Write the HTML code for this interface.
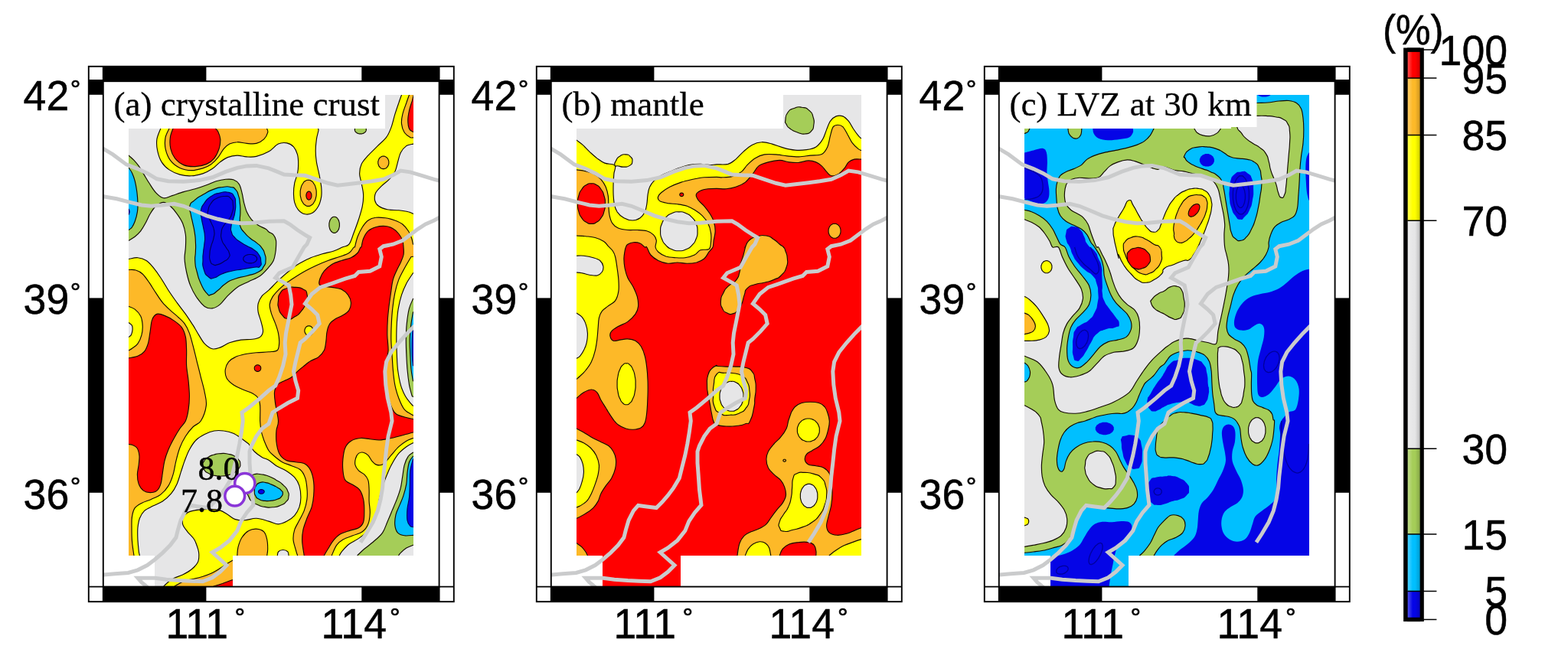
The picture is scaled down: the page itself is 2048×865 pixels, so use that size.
<!DOCTYPE html>
<html lang="en"><head><meta charset="utf-8"><title>Probability maps</title>
<style>
html,body{margin:0;padding:0;background:#fff;}
body{width:2048px;height:865px;overflow:hidden;}
svg{display:block;}
.ax{font-family:"Liberation Sans",sans-serif;font-size:53.6px;fill:#000;stroke:#000;stroke-width:0.5px;}
.dg{font-family:"Liberation Sans",sans-serif;font-size:34px;}
.ser{font-family:"Liberation Serif",serif;font-size:45px;fill:#000;stroke:#000;stroke-width:0.3px;}
.mag{font-family:"Liberation Serif",serif;font-size:44px;fill:#000;stroke:#000;stroke-width:0.4px;}
</style></head><body>
<svg width="2048" height="865" viewBox="0 0 2048 865">
<defs>
<clipPath id="dclip"><path d="M168,168H438V124H540V726H304V767H202V726H168Z"/></clipPath>
<clipPath id="mclip"><rect x="133.8" y="106" width="440.6" height="661"/></clipPath>
<linearGradient id="sheen" x1="0" x2="1" y1="0" y2="0"><stop offset="0" stop-color="#fff" stop-opacity="0.30"/><stop offset="0.4" stop-color="#fff" stop-opacity="0"/><stop offset="0.6" stop-color="#000" stop-opacity="0"/><stop offset="1" stop-color="#000" stop-opacity="0.18"/></linearGradient>
</defs>
<rect width="2048" height="865" fill="#fff"/>
<g transform="translate(0,0)">
<g clip-path="url(#dclip)" stroke="#120a00" stroke-width="1.15" stroke-linejoin="round">
<rect x="160" y="120" width="390" height="650" stroke="none" fill="#ffff00"/>
<path d="M168.2,338.5C170.2,338.2 176.1,336.4 179.9,336.7C183.8,337.1 187.9,338.4 191.2,340.5C194.5,342.6 196.8,345.5 199.9,349.2C203,353 206.6,358 209.9,363C213.2,367.9 216.4,373.8 219.9,379.2C223.4,384.6 227.4,390.2 231.1,395.4C234.9,400.6 238.8,405.4 242.4,410.4C245.9,415.4 249.4,420.8 252.4,425.4C255.3,429.9 257.3,433.9 259.8,437.9C262.3,441.8 264.4,446.1 267.3,449.1C270.2,452.1 274,455 277.3,455.8C280.7,456.7 283.6,455.4 287.3,454.1C291.1,452.8 295.2,449.5 299.8,447.8C304.4,446.2 309.8,444.8 314.8,444.1C319.8,443.3 325.6,444 329.8,443.3C333.9,442.7 337.5,442.1 339.7,440.4C342,438.6 343.3,436.2 343.5,432.9C343.7,429.5 342,424.5 341,420.4C340,416.2 337.9,411.8 337.2,407.9C336.6,403.9 336.4,400.2 337.2,396.7C338.1,393.1 340,389.6 342.2,386.7C344.5,383.8 347,382.9 351,379.2C354.9,375.4 360.6,369.2 366,364.2C371.4,359.2 378.9,352.8 383.5,349.2C388,345.7 389.7,345.1 393.4,343C397.2,340.9 401.4,338.6 405.9,336.7C410.5,334.9 415.9,333.2 420.9,331.7C425.9,330.3 431.5,329.5 435.9,328C440.3,326.5 443.8,324.5 447.1,323C450.5,321.5 453.4,322.4 455.9,319.2C458.4,316.1 460,309.7 462.1,304.3C464.2,298.8 466.5,292.6 468.4,286.8C470.2,280.9 472.3,274.7 473.3,269.3C474.4,263.9 474.8,259.3 474.6,254.3C474.4,249.3 472.9,243.9 472.1,239.3C471.3,234.8 469.6,231 469.6,226.9C469.6,222.7 470.2,218.3 472.1,214.4C474,210.4 477.3,207.1 480.8,203.1C484.4,199.2 489.4,194.6 493.3,190.6C497.3,186.7 501.6,183.4 504.6,179.4C507.5,175.5 508.9,171.9 510.8,166.9C512.7,161.9 514.1,154.9 515.8,149.4C517.5,144 519.3,138.7 520.8,134.5C522.2,130.2 523.9,125.7 524.5,124L527,114.5L150,114.5L150,338.5Z" fill="#e6e6e7"/>
<path d="M550.8,188.1L539.5,188.1C538.1,188.6 533.5,188.8 530.8,190.6C528.1,192.5 525.2,195.8 523.3,199.4C521.4,202.9 520.8,207.7 519.5,211.9C518.3,216 517.7,220.6 515.8,224.4C513.9,228.1 511.2,231.2 508.3,234.3C505.4,237.5 501.2,240.2 498.3,243.1C495.4,246 492.3,248.7 490.8,251.8C489.4,254.9 489,258.9 489.6,261.8C490.2,264.7 491.9,267.3 494.6,269.3C497.3,271.3 501.4,272.9 505.8,273.8C510.2,274.7 516.2,274.3 520.8,274.8C525.4,275.3 530.2,276 533.3,276.8C536.4,277.5 538.5,278.9 539.5,279.3L550.8,279.8Z" fill="#e6e6e7"/>
<path d="M550.8,355.5L539.5,356.7C538.1,359 533.3,365.7 530.8,370.4C528.3,375.2 526.3,380 524.5,385.4C522.8,390.8 521.3,396.7 520.3,402.9C519.2,409.1 518.7,416.2 518.3,422.9C517.9,429.5 517.8,436.2 517.8,442.9C517.8,449.5 518,456.2 518.3,462.8C518.6,469.5 518.7,476.1 519.5,482.8C520.4,489.5 521.6,496.9 523.3,502.8C524.9,508.6 527.2,513.6 529.5,517.8C531.8,521.9 535.4,525.7 537,527.7C538.7,529.8 539.1,529.8 539.5,530.2L550.8,531.5Z" fill="#e6e6e7"/>
<path d="M550.8,389.2L539.5,390.4C538.7,392.5 535.9,397.5 534.5,402.9C533.1,408.3 532,416.2 531.3,422.9C530.6,429.5 530.4,436.2 530.3,442.9C530.2,449.5 530.5,456.2 530.8,462.8C531.1,469.5 531.4,476.1 532,482.8C532.6,489.5 533.5,496.9 534.5,502.8C535.6,508.6 537.6,515.3 538.3,517.8L550.8,521.5Z" fill="#a5cd58"/>
<path d="M550.8,406.6L539.5,407.9C539.1,410.4 537.7,417 537,422.9C536.3,428.7 535.5,436.2 535.3,442.9C535.1,449.5 535.5,456.2 535.8,462.8C536.1,469.5 536.4,477 537,482.8C537.6,488.6 539.1,495.3 539.5,497.8L550.8,499Z" fill="#00bfff"/>
<path d="M550.8,426.6L539.5,427.9C539.3,430.4 538.5,437 538.3,442.9C538.1,448.7 538.1,457 538.3,462.8C538.5,468.7 539.3,475.3 539.5,477.8L550.8,479.1Z" fill="#0505e6" stroke="#00005a"/>
<path d="M314.8,572.5C313.1,571.4 308.5,567.8 304.8,566.2C301,564.6 296.5,563.5 292.3,563C288.1,562.4 284,562.2 279.8,563C275.7,563.7 271.3,565.5 267.3,567.5C263.4,569.5 259.4,571.6 256.1,575C252.8,578.3 249.9,582.9 247.4,587.5C244.9,592 243,597.4 241.1,602.4C239.2,607.4 237.8,612.4 236.1,617.4C234.5,622.4 233.2,627.8 231.1,632.4C229,637 226.8,641.1 223.6,644.9C220.5,648.6 216.4,652.2 212.4,654.9C208.4,657.6 203.9,659 199.9,661.1C196,663.2 191.6,664.6 188.7,667.4C185.8,670.1 183.9,673.6 182.4,677.3C181,681.1 180.4,685.2 179.9,689.8C179.5,694.4 179.7,699.8 179.9,704.8C180.2,709.8 180.8,716.3 181.2,719.8C181.6,723.3 182.2,725 182.4,726L183.7,749.8L197.4,774.7L213.9,769.7L213.9,766C214.7,765.2 216.7,763 218.9,761.2C221.1,759.5 223.8,757.2 227.1,755.5C230.4,753.8 234.8,752.9 238.6,751C242.4,749.1 246.8,746.7 250.1,744C253.4,741.3 256.7,738 258.3,734.8C260,731.6 259.8,727.7 259.8,724.8C259.9,721.9 259.6,720.6 258.6,717.3C257.6,714 255.9,708.6 253.6,704.8C251.3,701.1 247.4,698.1 244.9,694.8C242.4,691.5 239.5,688.2 238.6,684.8C237.8,681.5 238.4,677.5 239.9,674.8C241.3,672.1 244,670.1 247.4,668.6C250.7,667.1 255.3,666.6 259.8,666.1C264.4,665.6 270.2,665.2 274.8,665.4C279.4,665.5 283.6,665.7 287.3,666.9C291.1,668 294,670.4 297.3,672.3C300.6,674.3 303.5,677.3 307.3,678.6C311,679.8 315.2,680 319.8,679.8C324.3,679.6 329.5,677.1 334.8,677.3C340,677.5 346.2,679.8 351,681.1C355.8,682.3 359.5,684.8 363.5,684.8C367.4,684.8 371.2,683 374.7,681.1C378.3,679.2 382,676.7 384.7,673.6C387.4,670.5 389.6,666.3 391,662.4C392.3,658.4 392.9,654.5 392.9,649.9C392.9,645.3 392.3,639.3 391,634.9C389.6,630.5 387.6,627 384.7,623.7C381.8,620.3 377.4,617.4 373.5,614.9C369.5,612.4 364.7,611 361,608.7C357.2,606.4 354.1,603.1 351,601.2C347.9,599.3 345.4,599.3 342.2,597.4C339.1,595.6 335.2,592.9 332.3,590C329.3,587 326,581.6 324.8,580Z" fill="#e6e6e7"/>
<path d="M362.2,727.3C362.4,726.2 362.2,722.5 363.5,721C364.7,719.6 367.6,718.5 369.7,718.5C371.8,718.5 374.7,719.6 376,721C377.2,722.5 377,726.2 377.2,727.3L377.2,734.8L362.2,734.8Z" fill="#e6e6e7"/>
<path d="M550.8,578L539.5,578.7C538.1,579.5 533.9,581.4 530.8,583.7C527.7,586 523.7,589.1 520.8,592.4C517.9,595.8 515.6,599.7 513.3,603.7C511,607.6 509.1,611.4 507.1,616.2C505,621 502.7,626.8 500.8,632.4C498.9,638 497.1,644.5 495.8,649.9C494.6,655.3 494.4,659.9 493.3,664.9C492.3,669.9 491.7,675.1 489.6,679.8C487.5,684.6 484.4,689.6 480.8,693.6C477.3,697.5 472.5,700.6 468.4,703.6C464.2,706.5 459.4,708.3 455.9,711C452.3,713.8 449.2,717.4 447.1,719.8C445,722.2 444,724.6 443.4,725.5L441.4,737.3L550.8,737.3Z" fill="#e6e6e7"/>
<path d="M550.8,590L539.5,591.2C538.5,592 535.1,593.5 533.3,596.2C531.4,598.9 529.5,603.1 528.3,607.4C527,611.8 526.6,617.4 525.8,622.4C524.9,627.4 524.5,632.4 523.3,637.4C522,642.4 520.2,647.4 518.3,652.4C516.4,657.4 514.1,662.4 512,667.4C510,672.3 507.9,677.5 505.8,682.3C503.7,687.1 502.5,691.9 499.6,696.1C496.7,700.2 492.3,703.8 488.3,707.3C484.4,710.8 479.4,714.3 475.8,717.3C472.3,720.3 468.6,724.2 467.1,725.5L463.4,737.3L550.8,737.3Z" fill="#a5cd58"/>
<path d="M550.8,594.9L539.5,596.2C538.7,597.4 535.8,600.1 534.5,603.7C533.3,607.2 532.6,612.6 532,617.4C531.4,622.2 531.6,627.4 530.8,632.4C529.9,637.4 528.5,642.8 527,647.4C525.6,652 523.7,655.7 522,659.9C520.4,664 518.1,668 517,672.3C516,676.7 515.4,682.1 515.8,686.1C516.2,690 517.5,693.8 519.5,696.1C521.6,698.4 524.9,699.3 528.3,699.8C531.6,700.4 537.6,699.4 539.5,699.3L550.8,699.3Z" fill="#00bfff"/>
<path d="M550.8,598.7L539.5,599.9C538.9,602.4 536.5,609.5 535.8,614.9C535.1,620.3 535.5,626.6 535.3,632.4C535.1,638.2 535.1,644.5 534.5,649.9C534,655.3 532.4,659.9 532,664.9C531.6,669.9 531.4,676.1 532,679.8C532.6,683.6 534.5,685.9 535.8,687.3C537,688.8 538.9,688.4 539.5,688.6L550.8,688.6Z" fill="#0505e6" stroke="#00005a"/>
<path d="M550.8,711.8L539.5,712.3C538.1,712.9 533.5,714.4 530.8,716C528.1,717.7 524.9,720.7 523.3,722.3C521.6,723.9 521.2,725 520.8,725.5L519.5,737.3L550.8,737.3Z" fill="#e6e6e7"/>
<path d="M210.4,156.9L209.9,167.7C209.1,170 205.6,177 204.9,181.9C204.2,186.8 204.6,191.9 205.7,196.9C206.7,201.9 208.6,207.7 211.2,211.9C213.7,216 217.2,219.2 221.1,221.9C225.1,224.6 230.1,226.8 234.9,228.1C239.7,229.4 244.9,230.1 249.9,229.8C254.9,229.6 260.3,228.4 264.8,226.9C269.4,225.3 273.6,223.1 277.3,220.6C281.1,218.1 284,214.4 287.3,211.9C290.6,209.4 293.6,207.1 297.3,205.6C301,204.2 305.6,203.3 309.8,203.1C313.9,203 318.1,204.7 322.3,204.9C326.4,205.1 330,205.5 334.8,204.4C339.5,203.3 346.2,200.8 351,198.1C355.8,195.4 359.5,190 363.5,188.1C367.4,186.3 371.4,186.3 374.7,186.9C378,187.5 381.2,189.4 383.5,191.9C385.7,194.4 387.4,198.1 388.5,201.9C389.5,205.6 389.7,210.2 389.7,214.4C389.7,218.5 389.3,222.7 388.5,226.9C387.6,231 385.5,235.2 384.7,239.3C383.9,243.5 383.5,247.7 383.5,251.8C383.5,256 383.7,260.6 384.7,264.3C385.7,268 387.4,271.7 389.7,274.3C392,276.9 395.3,279.2 398.4,279.8C401.6,280.4 405.5,279.8 408.4,278C411.3,276.3 414,272.8 415.9,269.3C417.8,265.8 419,261 419.7,256.8C420.3,252.7 420.1,248.9 419.7,244.3C419.2,239.8 418.2,234.8 417.2,229.3C416.1,223.9 414.3,217.3 413.4,211.9C412.6,206.5 412.2,201.9 412.2,196.9C412.2,191.9 412.8,186.3 413.4,181.9C414,177.5 415.6,173 415.9,170.7C416.3,168.3 415.5,168.2 415.4,167.7L414.9,156.9Z" fill="#ffff00"/>
<path d="M222.4,156.9L221.1,167.7C220.3,169.6 217,175 216.1,179.4C215.3,183.9 215.1,189.4 216.1,194.4C217.2,199.4 219.3,205.2 222.4,209.4C225.5,213.5 230.3,217.2 234.9,219.4C239.5,221.6 244.9,222.5 249.9,222.6C254.9,222.7 260.5,221.2 264.8,219.9C269.2,218.5 272.7,216.7 276.1,214.4C279.4,212 282.1,209 284.8,205.6C287.5,202.3 289.8,197.3 292.3,194.4C294.8,191.5 296.9,189.6 299.8,188.1C302.7,186.7 306,185.8 309.8,185.7C313.5,185.5 318.1,187.1 322.3,187.4C326.4,187.7 331,188.3 334.8,187.4C338.5,186.5 342.2,184.3 344.7,181.9C347.2,179.5 349.1,175.5 349.7,173.2C350.4,170.8 348.7,168.6 348.5,167.7L347.7,156.9Z" fill="#fdb928"/>
<path d="M413.2,252.3C413.2,256.7 413.4,254.8 412.4,258.8C411.4,262.8 412,261.3 410.1,264.3C408.2,267.4 409.2,266.3 406.7,268C404.2,269.7 405.4,269.3 402.7,269.3C400,269.3 401.1,269.7 398.7,268C396.2,266.3 397.2,267.4 395.3,264.3C393.4,261.3 394,262.8 393,258.8C392,254.8 392.2,256.7 392.2,252.3C392.2,248 392,249.8 393,245.8C394,241.8 393.4,243.4 395.3,240.3C397.2,237.2 396.2,238.3 398.7,236.6C401.1,235 400,235.3 402.7,235.3C405.4,235.3 404.2,235 406.7,236.6C409.2,238.3 408.2,237.2 410.1,240.3C412,243.4 411.4,241.8 412.4,245.8C413.4,249.8 413.2,248 413.2,252.3Z" fill="#fdb928"/>
<path d="M507.8,212.4C507.8,214.5 508,213.6 507.3,215.5C506.6,217.5 507,216.7 505.8,218.2C504.5,219.7 505.1,219.2 503.5,220C501.8,220.8 502.6,220.6 500.8,220.6C499,220.6 499.8,220.8 498.1,220C496.5,219.2 497.1,219.7 495.9,218.2C494.6,216.7 495,217.5 494.4,215.5C493.7,213.6 493.8,214.5 493.8,212.4C493.8,210.3 493.7,211.2 494.4,209.2C495,207.3 494.6,208 495.9,206.5C497.1,205.1 496.5,205.6 498.1,204.8C499.8,204 499,204.1 500.8,204.1C502.6,204.1 501.8,204 503.5,204.8C505.1,205.6 504.5,205.1 505.8,206.5C507,208 506.6,207.3 507.3,209.2C508,211.2 507.8,210.3 507.8,212.4Z" fill="#fdb928"/>
<path d="M535.8,114.5L534.5,124C533.9,125.7 532.2,130.2 530.8,134.5C529.3,138.7 526.8,144.9 525.8,149.4C524.7,154 524.1,158 524.5,161.9C524.9,165.9 526.4,170.3 528.3,173.2C530.2,176.1 533.9,178.3 535.8,179.4C537.6,180.5 538.9,179.8 539.5,179.9L550.8,180.4L550.8,114.5Z" fill="#fdb928"/>
<path d="M160,352.5L168.2,352.5C169.7,352.5 174.5,352 177.4,353C180.4,353.9 183.3,355.3 186.2,358C189.1,360.7 192,365 194.9,369.2C197.8,373.4 200.8,378.6 203.7,382.9C206.6,387.3 209.3,391.7 212.4,395.4C215.5,399.2 219.1,402.3 222.4,405.4C225.7,408.5 229.3,411.2 232.4,414.1C235.5,417 238.6,419.3 241.1,422.9C243.6,426.4 245.5,430.4 247.4,435.4C249.2,440.4 250.7,446.6 252.4,452.8C254,459.1 255.7,466.2 257.3,472.8C259,479.5 260.7,486.1 262.3,492.8C264,499.4 266.2,506.5 267.3,512.8C268.5,519 270.2,524 269.3,530.2C268.5,536.4 265.2,545.5 262.3,550C259.5,554.5 255.7,554.2 252.4,557.5C249,560.8 245.3,565.4 242.4,570C239.5,574.6 237,579.5 234.9,585C232.8,590.4 231.3,596.6 229.9,602.4C228.4,608.3 227.8,614.5 226.1,619.9C224.5,625.3 222.6,630.5 219.9,634.9C217.2,639.3 213.7,643.2 209.9,646.1C206.2,649 201.6,650.5 197.4,652.4C193.3,654.2 188.5,655.5 184.9,657.4C181.4,659.2 178.3,660.7 176.2,663.6C174.1,666.5 173.2,670.5 172.5,674.8C171.7,679.2 172,684.4 172,689.8C172,695.2 172,701.3 172.5,707.3C173,713.3 174.5,722.9 175,726L175.4,734.8L155,734.8Z" fill="#fdb928"/>
<path d="M463.4,323C464,320.7 465.4,313.6 467.1,309.2C468.8,304.9 471.1,300.3 473.3,296.8C475.6,293.2 477.9,290.1 480.8,288C483.8,285.9 487.1,284.8 490.8,284.3C494.6,283.7 499.1,284.2 503.3,284.8C507.5,285.4 512,286.7 515.8,288C519.5,289.4 522.9,290.7 525.8,293C528.7,295.3 531.3,298.6 533.3,301.8C535.3,304.9 536.7,308.8 537.8,311.7C538.8,314.7 539.2,318 539.5,319.2L550.8,321.7L550.8,334.2L537,335.5C535.6,338 531,345.5 528.3,350.5C525.6,355.5 522.9,360 520.8,365.4C518.7,370.9 517.1,376.7 515.8,382.9C514.5,389.2 513.5,396.2 512.8,402.9C512,409.6 511.6,416.2 511.3,422.9C511,429.5 510.7,436.2 510.8,442.9C510.9,449.5 511.6,456.2 512,462.8C512.5,469.5 512.7,476.1 513.3,482.8C513.9,489.5 514.5,496.5 515.8,502.8C517,509 518.7,514.8 520.8,520.3C522.9,525.7 525.1,531.5 528.3,535.2C531.4,539 537.8,541.5 539.8,542.7L550.8,544L550.8,572L539.5,572.5C538.1,573.1 533.9,574.3 530.8,576.2C527.7,578.1 524.1,580.6 520.8,583.7C517.5,586.8 514.1,591.2 510.8,594.9C507.5,598.7 503.9,604.1 500.8,606.2C497.7,608.3 494.6,608.1 492.1,607.4C489.6,606.8 487.7,604.5 485.8,602.4C484,600.4 482.7,596.8 480.8,594.9C479,593.1 476.7,591.6 474.6,591.2C472.5,590.8 470,591.2 468.4,592.4C466.7,593.7 465.4,596.2 464.6,598.7C463.9,601.2 463.2,604.7 463.9,607.4C464.5,610.1 466.4,612.8 468.4,614.9C470.4,617 473.8,617.8 475.8,619.9C477.9,622 479.8,624.1 480.8,627.4C481.9,630.7 481.9,635.3 482.1,639.9C482.3,644.5 481.9,649.9 482.1,654.9C482.3,659.9 483.5,664.9 483.3,669.9C483.1,674.8 482.5,680.7 480.8,684.8C479.2,689 476.7,692.3 473.3,694.8C470,697.3 465,698.1 460.9,699.8C456.7,701.5 451.9,702.7 448.4,704.8C444.8,706.9 442.1,708.8 439.6,712.3C437.1,715.8 434.4,723.3 433.4,725.5L431.4,737.3L389,737.3L388.5,725.5C388,724.2 386.9,720.7 386,717.3C385,713.8 383.2,709 383,704.8C382.8,700.6 383.4,696.5 384.7,692.3C386,688.2 388.9,684 391,679.8C393,675.7 395.5,671.9 397.2,667.4C398.9,662.8 400.3,657.4 400.9,652.4C401.6,647.4 401.4,642.2 400.9,637.4C400.5,632.6 399.9,627.6 398.4,623.7C397,619.7 395.1,616.2 392.2,613.7C389.3,611.2 384.9,610.3 381,608.7C377,607 372.2,605.8 368.5,603.7C364.7,601.6 361.4,598.7 358.5,596.2C355.6,593.7 353.3,592.2 351,588.7C348.7,585.2 346.4,579.3 344.7,575C343.1,570.6 341.8,566.6 341,562.5C340.2,558.3 340,555.4 339.7,550C339.5,544.6 340.2,535.2 339.7,530.2C339.3,525.3 338.9,523 337.2,520.3C335.6,517.5 333.1,515.9 329.8,514C326.4,512.1 321.4,510.9 317.3,509C313.1,507.1 308.3,505.3 304.8,502.8C301.3,500.3 297.8,497.4 296,494C294.3,490.7 293.9,486.3 294.3,482.8C294.7,479.3 296.4,475.5 298.5,472.8C300.7,470.1 303.7,468.2 307.3,466.6C310.8,464.9 315.2,463.8 319.8,462.8C324.3,461.9 329.5,461.3 334.8,460.8C340,460.3 346.4,460.3 351,459.8C355.6,459.3 359.9,459.8 362.2,457.8C364.5,455.8 364.5,451.6 364.7,447.8C364.9,444.1 364.3,439.5 363.5,435.4C362.7,431.2 361.2,427 359.7,422.9C358.3,418.7 356,414.6 354.7,410.4C353.5,406.2 352,401.7 352.2,397.9C352.5,394.2 353.9,391.2 356,387.9C358.1,384.6 361.6,381.1 364.7,377.9C367.9,374.8 371.2,371.9 374.7,369.2C378.3,366.5 382,364.2 386,361.7C389.9,359.2 393.9,356.7 398.4,354.2C403,351.7 408.4,349 413.4,346.7C418.4,344.4 423.4,342.4 428.4,340.5C433.4,338.6 438.8,337.1 443.4,335.5C448,333.8 452.7,332.6 455.9,330.5C459,328.4 461.1,324.2 462.1,323Z" fill="#fdb928"/>
<path d="M309.8,737.3L309.8,726C310,724.2 310,718.7 311,714.8C312.1,710.8 313.7,705.8 316,702.3C318.3,698.8 321.6,695.4 324.8,693.6C327.9,691.7 331.4,690.9 334.8,691.1C338.1,691.3 342.4,692.5 344.7,694.8C347.1,697.1 347.9,701.1 348.7,704.8C349.6,708.6 349.7,713.8 349.7,717.3C349.7,720.8 348.9,724.6 348.7,726L348.7,737.3Z" fill="#fdb928"/>
<path d="M228.1,766C229.9,765 235.3,761.7 238.6,760.2C241.9,758.8 245.4,757.9 247.9,757.2C250.4,756.6 250.7,756.9 253.6,756.2C256.5,755.6 261.2,754.5 265.1,753.2C269,752 273.2,750.5 276.8,748.8C280.5,747 283.9,744.8 287.1,742.8C290.3,740.8 293.3,738.5 296,736.8C298.8,735 302.3,733 303.5,732.3L309.8,731L309.8,774.7L228.1,774.7Z" fill="#fdb928"/>
<path d="M279.1,766C281,765.4 287.1,763.6 290.6,762.5C294,761.3 297.6,759.8 299.8,759C302,758.2 302.9,757.9 303.5,757.7L309.8,756L309.8,774.7L279.1,774.7Z" fill="#ff0000"/>
<path d="M160,399.9L168.2,400.4C169.5,401 173.6,402.1 176.2,404.1C178.8,406.2 182,409.4 183.7,412.9C185.4,416.4 186,421.2 186.2,425.4C186.4,429.5 186,433.9 184.9,437.9C183.9,441.8 182,446.2 179.9,449.1C177.9,452 174.4,453.9 172.5,455.3C170.5,456.8 168.9,457.4 168.2,457.8L160,458.3Z" fill="#ffff00"/>
<path d="M160,421.1L168.2,421.6C168.9,422.3 171.7,423.7 172.5,425.4C173.2,427 173.2,429.5 173,431.6C172.7,433.7 172,436.4 171.2,437.9C170.4,439.3 168.7,439.9 168.2,440.4L160,440.9Z" fill="#e6e6e7"/>
<path d="M408.9,432.1C408.9,433.7 409,433 408.5,434.5C408,436 408.3,435.4 407.3,436.5C406.3,437.7 406.8,437.3 405.5,437.9C404.2,438.5 404.8,438.4 403.4,438.4C402,438.4 402.6,438.5 401.3,437.9C400,437.3 400.5,437.7 399.6,436.5C398.6,435.4 398.9,436 398.4,434.5C397.8,433 397.9,433.7 397.9,432.1C397.9,430.5 397.8,431.2 398.4,429.7C398.9,428.3 398.6,428.8 399.6,427.7C400.5,426.6 400,427 401.3,426.3C402.6,425.7 402,425.9 403.4,425.9C404.8,425.9 404.2,425.7 405.5,426.3C406.8,427 406.3,426.6 407.3,427.7C408.3,428.8 408,428.3 408.5,429.7C409,431.2 408.9,430.5 408.9,432.1Z" fill="#ffff00"/>
<path d="M226.9,156.9L226.1,167.7C225.5,169.6 222.9,175 222.4,179.4C221.8,183.9 221.8,189.8 222.9,194.4C223.9,199 225.8,203.3 228.6,206.9C231.5,210.4 235.5,213.8 239.9,215.6C244.2,217.4 249.9,217.8 254.9,217.6C259.8,217.4 265.7,216.2 269.8,214.4C274,212.6 277.1,210.2 279.8,206.9C282.5,203.5 284.7,198.6 286.1,194.4C287.4,190.2 288,185.7 287.8,181.9C287.6,178.2 285.9,174.3 284.8,171.9C283.7,169.5 281.7,168.4 281.1,167.7L279.8,156.9Z" fill="#ff0000"/>
<path d="M406.9,255.6C406.9,257 407,256.4 406.7,257.7C406.3,259 406.5,258.5 405.9,259.4C405.3,260.4 405.6,260.1 404.8,260.6C403.9,261.2 404.3,261.1 403.4,261.1C402.5,261.1 402.9,261.2 402.1,260.6C401.3,260.1 401.6,260.4 401,259.4C400.3,258.5 400.5,259 400.2,257.7C399.9,256.4 399.9,257 399.9,255.6C399.9,254.2 399.9,254.8 400.2,253.5C400.5,252.2 400.3,252.7 401,251.7C401.6,250.7 401.3,251 402.1,250.5C402.9,250 402.5,250.1 403.4,250.1C404.3,250.1 403.9,250 404.8,250.5C405.6,251 405.3,250.7 405.9,251.7C406.5,252.7 406.3,252.2 406.7,253.5C407,254.8 406.9,254.2 406.9,255.6Z" fill="#ff0000"/>
<path d="M540.8,122L538.3,132C537.6,134 535.4,140.3 534.5,144.5C533.6,148.6 532.8,153 532.8,156.9C532.8,160.9 533.4,165.6 534.5,168.2C535.6,170.8 538.7,171.7 539.5,172.4L550.8,173.2L550.8,122Z" fill="#ff0000"/>
<path d="M160,468.3L168.2,467.8C170.2,467.4 176.5,466.8 179.9,465.3C183.4,463.9 186.4,462 188.7,459.1C191,456.2 192.4,452.2 193.7,447.8C194.9,443.5 195.3,437.9 196.2,432.9C197,427.9 197.2,421.6 198.7,417.9C200.1,414.1 202.2,411.3 204.9,410.4C207.6,409.5 211.2,410.9 214.9,412.4C218.6,413.8 223.6,416.5 227.4,419.1C231.1,421.7 234.9,424.3 237.4,427.9C239.9,431.4 241.3,435.4 242.4,440.4C243.4,445.3 243.4,451.6 243.6,457.8C243.8,464.1 243.2,471.1 243.6,477.8C244,484.5 245.5,491.1 246.1,497.8C246.7,504.4 247.4,511.5 247.4,517.8C247.4,524 246.9,529.9 246.1,535.2C245.3,540.6 244.2,545.9 242.4,550C240.5,554.1 237.4,556.2 234.9,560C232.4,563.7 229.9,567.9 227.4,572.5C224.9,577 222,582.5 219.9,587.5C217.8,592.4 216.1,597.4 214.9,602.4C213.7,607.4 213.2,612.4 212.4,617.4C211.6,622.4 211.2,628.4 209.9,632.4C208.7,636.4 207.2,639.3 204.9,641.1C202.6,643 199.1,643.6 196.2,643.6C193.3,643.6 189.9,643 187.4,641.1C184.9,639.3 182.5,635.9 181.2,632.4C179.9,628.9 179.4,624.1 179.4,619.9C179.4,615.8 180.8,611.6 181.2,607.4C181.6,603.3 182.4,598.7 181.9,594.9C181.5,591.2 180.3,587.2 178.7,585C177.1,582.7 174.2,582 172.5,581.2C170.7,580.5 168.9,580.6 168.2,580.5L160,580Z" fill="#ff0000"/>
<path d="M363.5,392.9C364.2,386.3 362.2,388.3 366,382.9C369.7,377.5 368.1,379.2 374.7,376.7C381.4,374.2 378.9,375 386,375.4C393,375.9 391,375 395.9,377.9C400.9,380.8 399.7,378.3 400.9,384.2C402.2,390 402.2,387.9 399.7,395.4C397.2,402.9 398.4,400.4 393.4,406.6C388.5,412.9 390.5,410.8 384.7,414.1C378.9,417.5 381.4,417.5 376,416.6C370.6,415.8 372.5,416.2 368.5,411.6C364.5,407.1 365.6,409.1 364,402.9C362.3,396.7 362.8,399.6 363.5,392.9Z" fill="#ff0000"/>
<path d="M340.7,481.1C340.7,482.1 340.8,481.7 340.4,482.7C340,483.7 340.3,483.3 339.5,484.1C338.7,484.8 339.1,484.6 338.1,485C337.1,485.4 337.6,485.3 336.5,485.3C335.4,485.3 335.9,485.4 334.9,485C333.9,484.6 334.3,484.8 333.5,484.1C332.7,483.3 333,483.7 332.6,482.7C332.2,481.7 332.3,482.1 332.3,481.1C332.3,480 332.2,480.4 332.6,479.4C333,478.4 332.7,478.8 333.5,478.1C334.3,477.3 333.9,477.5 334.9,477.1C335.9,476.7 335.4,476.8 336.5,476.8C337.6,476.8 337.1,476.7 338.1,477.1C339.1,477.5 338.7,477.3 339.5,478.1C340.3,478.8 340,478.4 340.4,479.4C340.8,480.4 340.7,480 340.7,481.1Z" fill="#ff0000"/>
<path d="M472.1,323C472.5,321.1 473.1,315.3 474.6,311.7C476.1,308.2 478.1,304.3 480.8,301.8C483.5,299.3 487.1,297.8 490.8,296.8C494.6,295.7 499.6,295.2 503.3,295.5C507.1,295.8 510.4,297.1 513.3,298.8C516.2,300.4 518.7,302.9 520.8,305.5C522.9,308.1 524.7,311.3 525.8,314.2C526.8,317.2 526.8,319.9 527,323C527.2,326.1 527.7,329.7 527,333C526.4,336.3 524.7,339.6 523.3,343C521.8,346.3 520,349.2 518.3,353C516.6,356.7 514.5,360.9 513.3,365.4C512,370 511.6,375 510.8,380.4C510,385.8 509.1,391.7 508.3,397.9C507.6,404.1 506.7,411.2 506.3,417.9C505.9,424.5 505.7,431.2 505.8,437.9C505.9,444.5 507.3,452 507.1,457.8C506.8,463.7 505.2,467 504.6,472.8C503.9,478.6 503.1,486.1 503.3,492.8C503.5,499.4 504.6,506.5 505.8,512.8C507.1,519 508.7,525.5 510.8,530.2C512.9,535 513.5,538.6 518.3,541.5C523.1,544.4 536.2,546.7 539.8,547.7L550.8,549L550.8,564.5L539.5,565C537.2,565.6 530.6,567.5 525.8,568.7C521,570 515.8,571.4 510.8,572.5C505.8,573.5 500.4,574.8 495.8,575C491.2,575.2 487.5,574.1 483.3,573.7C479.2,573.3 475,572.1 470.9,572.5C466.7,572.9 461.7,574.1 458.4,576.2C455,578.3 452.6,581 450.9,585C449.1,588.9 448.4,594.9 447.9,599.9C447.4,604.9 447.4,610.3 447.9,614.9C448.4,619.5 448.7,624.3 450.9,627.4C453,630.5 457.7,631.6 460.9,633.6C464,635.7 467.3,636.8 469.6,639.9C471.9,643 473.6,647.8 474.6,652.4C475.6,656.9 475.8,662.4 475.8,667.4C475.8,672.3 475.8,678.6 474.6,682.3C473.3,686.1 471.5,688 468.4,689.8C465.2,691.7 460,692.1 455.9,693.6C451.7,695 446.9,696.3 443.4,698.6C439.8,700.9 437.1,704.2 434.6,707.3C432.1,710.4 430.3,714.3 428.4,717.3C426.5,720.3 424.2,724.2 423.4,725.5L421.4,737.3L397.7,737.3L397.2,725.5C396.8,722.5 394.9,712.8 394.7,707.3C394.5,701.8 394.9,697.3 395.9,692.3C397,687.3 399.1,682.3 400.9,677.3C402.8,672.3 405.7,667.4 407.2,662.4C408.6,657.4 409.3,652.8 409.7,647.4C410.1,642 410.3,635.3 409.7,629.9C409.1,624.5 407.8,618.9 405.9,614.9C404.1,611 401.8,608.1 398.4,606.2C395.1,604.3 390.1,604.5 386,603.7C381.8,602.9 377,603.1 373.5,601.2C369.9,599.3 366.8,596.4 364.7,592.4C362.7,588.5 361.6,582.5 361,577.5C360.4,572.5 360.6,567.1 361,562.5C361.4,557.9 363.7,555.8 363.5,550C363.3,544.2 360.6,534 359.7,527.7C358.9,521.5 358.1,516.9 358.5,512.8C358.9,508.6 360.2,505.3 362.2,502.8C364.3,500.3 367.9,499.4 371,497.8C374.1,496.1 378,494.9 381,492.8C383.9,490.7 386,487.6 388.5,485.3C391,483 393,481.3 395.9,479.1C398.9,476.8 402.6,473.6 405.9,471.6C409.3,469.5 413,468.9 415.9,466.6C418.8,464.3 421.7,461.4 423.4,457.8C425.1,454.3 425.3,449.5 425.9,445.3C426.5,441.2 426.3,436.6 427.2,432.9C428,429.1 429,425.6 430.9,422.9C432.8,420.2 435.5,418.5 438.4,416.6C441.3,414.8 445.5,413.5 448.4,411.6C451.3,409.8 454.2,408.1 455.9,405.4C457.5,402.7 458.6,398.7 458.4,395.4C458.2,392.1 456.7,388.3 454.6,385.4C452.5,382.5 449.4,379.6 445.9,377.9C442.3,376.3 437.1,376.1 433.4,375.4C429.7,374.8 426.1,374.8 423.4,374.2C420.7,373.6 418.1,373.4 417.2,371.7C416.3,370 416.9,367.1 417.9,364.2C419,361.3 420.8,357.3 423.4,354.2C426,351.1 429.7,347.8 433.4,345.5C437.1,343.2 441.7,341.9 445.9,340.5C450,339 454.8,338.4 458.4,336.7C461.9,335.1 465,332.8 467.1,330.5C469.2,328.2 470.2,324.2 470.9,323Z" fill="#ff0000"/>
<path d="M160,202.6L168.2,203.1C169.3,204.2 172.8,207.1 175,209.4C177.1,211.7 179.1,213.9 181.2,216.9C183.3,219.8 185.1,223.1 187.4,226.9C189.7,230.6 192.2,235.2 194.9,239.3C197.6,243.5 200.5,248.6 203.7,251.8C206.8,255.1 210.1,258.2 213.7,258.8C217.2,259.4 220.5,256.9 224.9,255.6C229.3,254.2 234.9,252 239.9,250.6C244.9,249.1 249.9,248.3 254.9,246.8C259.8,245.4 265.3,243.5 269.8,241.8C274.4,240.2 278.2,238.1 282.3,236.8C286.5,235.6 291.1,234.7 294.8,234.3C298.5,234 301.9,233.8 304.8,234.8C307.7,235.9 310.4,237.8 312.3,240.6C314.2,243.4 315,247.9 316,251.8C317.1,255.8 317.5,260.1 318.5,264.3C319.6,268.5 320.6,273 322.3,276.8C323.9,280.5 326,283.9 328.5,286.8C331,289.7 334.1,292.2 337.2,294.3C340.4,296.3 344.9,297.8 347.2,299.3C349.5,300.7 349.3,301.8 351,303C352.7,304.3 355.7,304.9 357.2,306.8C358.8,308.6 359.9,311.5 360.5,314.2C361,316.9 360.6,320.3 360.5,323C360.4,325.7 360.3,327.6 359.7,330.5C359.2,333.4 358.7,337.4 357.2,340.5C355.8,343.6 353.9,345.9 351,349.2C348.1,352.5 344.1,357.3 339.7,360.5C335.4,363.6 329.8,365.4 324.8,367.9C319.8,370.4 314.4,372.3 309.8,375.4C305.2,378.6 301,382.9 297.3,386.7C293.6,390.4 290.6,395.2 287.3,397.9C284,400.6 280.7,402.5 277.3,402.9C274,403.3 270.7,402.7 267.3,400.4C264,398.1 260.5,393.7 257.3,389.2C254.2,384.6 250.9,378.6 248.6,372.9C246.3,367.3 244.9,361.3 243.6,355.5C242.4,349.6 241.3,343.4 241.1,338C240.9,332.6 242.2,328.2 242.4,323C242.6,317.8 243,312 242.4,306.8C241.7,301.5 240.5,296.3 238.6,291.8C236.7,287.2 233.8,283 231.1,279.3C228.4,275.5 225.3,271.8 222.4,269.3C219.5,266.8 216.8,264.3 213.7,264.3C210.5,264.3 206.6,266.8 203.7,269.3C200.8,271.8 198.5,275.5 196.2,279.3C193.9,283 192,288 189.9,291.8C187.9,295.5 186,298.8 183.7,301.8C181.4,304.7 178.8,307.2 176.2,309.2C173.6,311.3 169.5,313.4 168.2,314.2L160,314.7Z" fill="#a5cd58"/>
<path d="M160,218.9L168.2,219.4C168.9,220.4 171.1,223 172.5,225.9C173.8,228.7 175.2,232.3 176.2,236.3C177.2,240.3 178.1,245.2 178.7,249.8C179.3,254.5 179.8,259.8 179.9,264.3C180.1,268.8 180.1,272.6 179.4,276.8C178.8,280.9 177.4,285.9 176.2,289.3C175,292.6 173.8,294.9 172.5,296.8C171.1,298.6 168.9,299.9 168.2,300.5L160,301Z" fill="#00bfff"/>
<path d="M160,272.3L168.2,273.3C168.4,273.9 169.2,275.6 169.2,276.8C169.2,278 168.4,279.7 168.2,280.3L160,281.3Z" fill="#0505e6" stroke="#00005a"/>
<path d="M247.8,269.3C249.5,263.3 248.2,266.7 254.2,261.6C260.1,256.5 257.6,258.7 265.6,254C273.7,249.3 269.9,250.8 278.3,247.6C286.8,244.5 283.4,245.5 291,244.5C298.7,243.4 295.7,243.4 301.2,244.5C306.7,245.5 304.2,244 307.6,247.6C311,251.2 309.5,249.3 311.4,255.3C313.3,261.2 312.5,258.2 313.3,265.4C314.2,272.6 313.9,269.7 313.9,276.9C313.9,284.1 313.3,280.7 313.3,287.1C313.3,293.4 312,290.5 313.9,296C315.9,301.5 314.8,298.5 319,303.6C323.3,308.7 321.1,306.6 326.7,311.2C332.2,315.9 330.5,313.3 335.6,317.6C340.7,321.8 338.5,319.3 341.9,323.9C345.3,328.6 344,326.1 345.7,331.6C347.4,337.1 347.4,335 347,340.5C346.6,346 347.7,343.1 344.5,348.1C341.2,353.1 344.6,351.3 337.2,355.5C329.8,359.6 332.3,357.5 322.3,360.5C312.3,363.4 316.4,360.9 307.3,364.2C298.1,367.5 302.3,365.4 294.8,370.4C287.3,375.4 291.1,374.4 284.8,379.2C278.6,384 281.1,383.7 276.1,384.9C271.1,386.2 274.4,387.8 269.8,382.9C265.3,378.1 266.5,379.6 262.3,370.4C258.2,361.3 259.9,365 257.3,355.5C254.8,345.9 255.4,350.6 254.8,341.7C254.2,332.9 255.2,337.5 255.4,329C255.6,320.6 255.9,324.8 255.4,316.3C255,307.8 255.4,312.1 254.2,303.6C252.9,295.1 253.3,298.9 251.6,290.9C249.9,282.8 250.3,286.6 249.1,279.4C247.8,272.2 246.1,275.2 247.8,269.3Z" fill="#00bfff"/>
<path d="M262.4,275.6C263.6,268.8 262.4,271.8 266.9,265.4C271.3,259.1 269,261 275.8,256.5C282.6,252.1 279.6,253.8 287.2,252.1C294.9,250.4 292.5,250 298.7,251.4C304.8,252.9 302.7,251.9 305.7,256.5C308.6,261.2 307.2,258.7 307.6,265.4C308,272.2 308,269.7 306.9,276.9C305.9,284.1 306.1,280.7 304.4,287.1C302.7,293.4 302.5,290.5 301.9,296C301.2,301.5 301,298.9 302.5,303.6C304,308.3 302.5,305.7 306.3,310C310.1,314.2 308.4,312.5 313.9,316.3C319.5,320.1 316.9,318 322.8,321.4C328.8,324.8 326.7,322.7 331.7,326.5C336.8,330.3 335.1,328.2 338.1,332.8C341.1,337.5 340.2,335.4 340.7,340.5C341.1,345.6 342.2,345.2 339.4,348.1C336.6,351 339.6,348 332.3,349.2C324.9,350.4 327.3,350 317.3,351.7C307.3,353.4 311.4,352.1 302.3,354.2C293.1,356.3 297.3,355 289.8,358C282.3,360.9 285.6,361.7 279.8,363C274,364.2 276.9,365.4 272.3,361.7C267.8,358 268.5,359.2 266.1,351.7C263.6,344.2 265.1,346.8 265,339.2C264.8,331.6 265,335.8 265.6,329C266.2,322.2 266.2,325.6 266.9,318.9C267.5,312.1 267.9,315.9 267.5,308.7C267.1,301.5 267,304.9 265.6,297.2C264.2,289.6 264.4,293 263.3,285.8C262.3,278.6 261.2,282.4 262.4,275.6Z" fill="#0505e6" stroke="#00005a"/>
<path d="M443.4,293.8C443.4,296.4 443.5,295.3 442.9,297.8C442.2,300.3 442.6,299.3 441.4,301.2C440.2,303.1 440.8,302.4 439.2,303.5C437.6,304.5 438.4,304.3 436.6,304.3C434.9,304.3 435.7,304.5 434.1,303.5C432.5,302.4 433.1,303.1 431.9,301.2C430.7,299.3 431.1,300.3 430.4,297.8C429.8,295.3 429.9,296.4 429.9,293.8C429.9,291.1 429.8,292.2 430.4,289.8C431.1,287.3 430.7,288.2 431.9,286.4C433.1,284.5 432.5,285.1 434.1,284.1C435.7,283.1 434.9,283.3 436.6,283.3C438.4,283.3 437.6,283.1 439.2,284.1C440.8,285.1 440.2,284.5 441.4,286.4C442.6,288.2 442.2,287.3 442.9,289.8C443.5,292.2 443.4,291.1 443.4,293.8Z" fill="#a5cd58"/>
<path d="M478.3,169.4C478.3,170.8 478.5,170.2 477.8,171.5C477,172.8 477.5,172.3 476.1,173.3C474.8,174.3 475.5,174 473.7,174.5C472,175 472.8,174.9 470.9,174.9C468.9,174.9 469.7,175 468,174.5C466.2,174 466.9,174.3 465.6,173.3C464.2,172.3 464.7,172.8 463.9,171.5C463.2,170.2 463.4,170.8 463.4,169.4C463.4,168 463.2,168.6 463.9,167.3C464.7,166 464.2,166.5 465.6,165.5C466.9,164.5 466.2,164.9 468,164.3C469.7,163.8 468.9,163.9 470.9,163.9C472.8,163.9 472,163.8 473.7,164.3C475.5,164.9 474.8,164.5 476.1,165.5C477.5,166.5 477,166 477.8,167.3C478.5,168.6 478.3,168 478.3,169.4Z" fill="#a5cd58"/>
<path d="M313.8,606C314,609.8 314.4,608.2 312.2,611.8C310,615.4 311.4,613.9 307.2,616.8C302.9,619.7 305.1,618.7 299.4,620.4C293.7,622.2 296.3,621.7 290.1,622C283.8,622.4 286.5,622.6 280.6,621.4C274.8,620.3 277.1,621.1 272.5,618.6C267.9,616.2 269.5,617.5 266.9,614.1C264.4,610.8 265,612.4 264.8,608.6C264.6,604.8 264.1,606.5 266.3,602.9C268.6,599.3 267.1,600.7 271.4,597.8C275.7,594.9 273.5,595.9 279.2,594.2C284.9,592.5 282.3,592.9 288.5,592.6C294.8,592.3 292.1,592.1 298,593.2C303.8,594.3 301.5,593.6 306.1,596C310.6,598.4 309.1,597.1 311.6,600.5C314.2,603.8 313.6,602.3 313.8,606Z" fill="#a5cd58"/>
<path d="M331.8,619.8C336.2,618.5 334.3,618.9 340.7,619.8C347.1,620.6 344.1,619.8 350.9,622.3C357.7,624.9 354.7,623.6 361,627.4C367.4,631.2 365.1,629.1 370,633.8C374.8,638.4 373.3,636.3 375.7,641.4C378,646.5 377.6,644.4 376.9,649C376.3,653.7 377.4,651.6 373.8,655.4C370.2,659.2 372.1,658 366.1,660.5C360.2,662.9 362.7,662.1 356,662.8C349.2,663.4 352.1,663.4 345.8,662.4C339.4,661.4 342.4,662.2 336.9,659.8C331.4,657.5 333.3,659 329.3,655.4C325.2,651.8 326.9,653.7 324.8,649C322.7,644.4 323.1,647.3 322.9,641.4C322.7,635.5 322.7,637.2 324.2,631.2C325.6,625.3 324.8,627.4 327.3,623.6C329.9,619.8 327.3,621 331.8,619.8Z" fill="#a5cd58"/>
<path d="M332.4,641.4C332.6,637.2 332,638.6 334.3,635C336.7,631.4 335.2,632.1 339.4,630.6C343.7,629.1 342,629.7 347.1,630.6C352.1,631.4 349.6,631 354.7,633.1C359.8,635.3 358.1,634.4 362.3,636.9C366.6,639.5 365.1,638.2 367.4,640.8C369.7,643.3 369.3,641.8 369.3,644.6C369.3,647.3 369.7,646.5 367.4,649C365.1,651.6 366.6,650.5 362.3,652.2C358.1,653.9 360.2,653.4 354.7,654.1C349.2,654.8 351.3,655 345.8,654.4C340.3,653.7 342.2,654.4 338.2,652.2C334.1,650 335.6,651.4 333.7,647.8C331.8,644.2 332.2,645.6 332.4,641.4Z" fill="#00bfff"/>
<path d="M345.2,642.4C345.2,643.1 345.2,642.8 344.9,643.5C344.5,644.1 344.7,643.9 344,644.4C343.3,644.9 343.7,644.7 342.8,645C341.9,645.3 342.3,645.2 341.3,645.2C340.4,645.2 340.8,645.3 339.9,645C339,644.7 339.3,644.9 338.6,644.4C337.9,643.9 338.2,644.1 337.8,643.5C337.4,642.8 337.5,643.1 337.5,642.4C337.5,641.7 337.4,642 337.8,641.3C338.2,640.7 337.9,640.9 338.6,640.4C339.3,639.9 339,640.1 339.9,639.8C340.8,639.6 340.4,639.6 341.3,639.6C342.3,639.6 341.9,639.6 342.8,639.8C343.7,640.1 343.3,639.9 344,640.4C344.7,640.9 344.5,640.7 344.9,641.3C345.2,642 345.2,641.7 345.2,642.4Z" fill="#0505e6" stroke="#00005a"/>
<path d="M272,274.3C273.2,268.8 272,270.5 275.8,265.4C279.6,260.3 277.5,262 283.4,259.1C289.4,256.1 287.7,256.5 293.6,256.5C299.5,256.5 297.6,255.3 301.2,259.1C304.8,262.9 303.8,261.6 304.4,268C305,274.3 305,271.8 303.1,278.2C301.2,284.5 302.3,281.5 298.7,287.1C295.1,292.6 295.5,289.2 292.3,294.7C289.1,300.2 290,297.2 289.1,303.6C288.3,310 287.9,307.4 289.8,313.8C291.7,320.1 291.7,317.2 294.9,322.7C298,328.2 298,325.6 299.3,330.3C300.6,335 301,332.8 298.7,336.7C296.3,340.5 297,338.8 292.3,341.7C287.7,344.7 289.4,344.3 284.7,345.6C280,346.8 281.7,347.3 278.3,345.6C274.9,343.9 276,345.1 274.5,340.5C273,335.8 273.5,337.9 273.9,331.6C274.3,325.2 274.1,328.2 275.8,321.4C277.5,314.6 277.7,318 279,311.2C280.2,304.4 280.7,307.8 279.6,301C278.5,294.3 278.3,297.2 275.8,290.9C273.2,284.5 273.2,287.5 272,282C270.7,276.5 270.7,279.9 272,274.3Z" fill="none" stroke="#00005a"/>
<path d="M335.6,338.2C335.6,339.6 335.8,339 334.9,340.4C334,341.7 334.6,341.2 333,342.2C331.4,343.3 332.2,342.9 330.1,343.5C328,344 328.9,343.9 326.7,343.9C324.4,343.9 325.4,344 323.3,343.5C321.2,342.9 322,343.3 320.4,342.2C318.8,341.2 319.3,341.7 318.4,340.4C317.6,339 317.8,339.6 317.8,338.2C317.8,336.7 317.6,337.3 318.4,336C319.3,334.6 318.8,335.2 320.4,334.1C322,333.1 321.2,333.5 323.3,332.9C325.4,332.3 324.4,332.5 326.7,332.5C328.9,332.5 328,332.3 330.1,332.9C332.2,333.5 331.4,333.1 333,334.1C334.6,335.2 334,334.6 334.9,336C335.8,337.3 335.6,336.7 335.6,338.2Z" fill="none" stroke="#00005a"/>
</g>
<rect x="136" y="108" width="367" height="60" fill="#fff"/>
<g clip-path="url(#mclip)" fill="none" stroke="#cacbcc" stroke-width="5.0" stroke-linejoin="miter" stroke-miterlimit="3">
<path d="M132.5,193.1L135,194.4L147.5,201.9L165,214.9L179.9,220.6L192.4,226.4L204.9,233.8L219.9,236.8L239.9,237.3L259.8,235.6L277.3,231.8L294.8,224.4L309.8,219.4L322.3,216.9L334.8,216.4L351,219.9L361,223.9L371,228.1L383.5,228.8L398.4,229.3L413.4,234.3L428.4,239.3L440.9,242.3L455.9,240.6L470.9,238.8L485.8,236.8L500.8,234.3L513.3,228.8L523.3,223.1L535.8,224.9L550.8,229.3L567,234.3L578.2,237.3"/>
<path d="M132.5,256.3L152.5,259.8L170,264.3L184.9,268L197.4,269.3L212.4,268L227.4,266.3L239.9,269.3L254.9,275.5L269.8,281.8L284.8,286.3L299.8,289.8L314.8,291.8L329.8,291.3L351,289.3L371,288.8L378.5,293L388.5,300.5L398.4,306.8L404.7,310.5L400.9,319.2L397.2,323L388.5,338L382.2,349.2L364.7,356.7L359.7,363L368.5,367.9L377.2,372.9L379.7,385.4L381,397.9L378.5,410.4L376,422.9L373.5,435.4L372.2,447.8L373,462.8L369.7,477.8L364.7,492.8L359.7,504L351,510.3L339.7,520.3L324.8,532.7L316,539L317.3,550L315.3,565L312.8,580L309.8,594.9L306,609.9L302.3,624.9L294.8,637.4L287.3,647.4L279.8,656.1L272.3,663.6L259.8,661.9L248.6,660.4L242.4,667.4L236.1,679.8L232.4,692.3L229.9,702.3L222.4,712.3L212.4,722.3L202.4,731L192.4,738.5L179.9,744.8L167.5,748.5L150,749.8L132.5,751.2"/>
<path d="M578.2,281.8L567,288L555.7,293L545.8,299.3L535.8,306.8L525.8,314.2L513.3,319.2L500.8,321.7L495.8,325.5L498.3,335.5L495.8,348L483.3,354.2L468.4,355.5L463.4,360.5L450.9,364.2L433.4,370.4L418.4,375.4L407.2,384.2L398.4,396.7L407.2,404.1L414.7,411.6L417.2,422.9L408.4,432.9L398.4,442.9L392.2,447.8L389.7,457.8L386,472.8L383.5,485.3L386,497.8L389.7,510.3L388.5,520.3L376,526.5L363.5,534L356,539L351,553.7L342.2,560L334.8,570L328.5,582.5L326,590L326,604.9L327.3,622.4L328.5,639.9L331,659.9L322.3,669.9L314.8,681.1L309.8,693.6L299.8,706.1L287.3,716L277.3,721.8L284.8,728.5L296,738.5L287.3,747.3L277.3,754.7L264.8,759.7L249.9,759.2L234.9,758.5L217.4,757.2L202.4,755.2L179.9,755.2L184.9,761L191.2,766L194.9,769.7"/>
<path d="M544.5,422.9L530.8,436.6L520.8,447.8L510.8,460.3L504.6,472.8L502.8,485.3L503.8,502.8L506.3,520.3L510.8,539L512,550L507.1,570L504.6,587.5L502.8,604.9L500.8,622.4L499.6,637.4L497.1,652.4L493.3,667.4L487.1,682.3L478.3,697.3L470.9,708.6" clip-path="url(#dclip)"/>
</g>
<text class="mag" x="258.5" y="627.2">8.0</text>
<text class="mag" x="236" y="668.8">7.8</text>
<circle cx="319.8" cy="631.5" r="13.1" fill="#fff" stroke="#8a35d8" stroke-width="3.5"/>
<circle cx="306.7" cy="648.1" r="12.9" fill="#fff" stroke="#8a35d8" stroke-width="3.5"/>
<text class="ser" x="148.6" y="151.2">(a) crystalline crust</text>
<g>
<path d="M115.8,86.8H592.8V786.2H115.8Z M134.8,106.2V766.6H573.6V106.2Z" fill="#fff" fill-rule="evenodd"/>
<rect x="134.8" y="86.8" width="134.6" height="19.4" fill="#000"/>
<rect x="472.3" y="86.8" width="101.3" height="19.4" fill="#000"/>
<rect x="134.8" y="766.6" width="134.6" height="19.6" fill="#000"/>
<rect x="472.3" y="766.6" width="101.3" height="19.6" fill="#000"/>
<rect x="115.8" y="105" width="19" height="18.8" fill="#000"/>
<rect x="115.8" y="389.4" width="19" height="254.4" fill="#000"/>
<rect x="573.6" y="105" width="19.2" height="18.8" fill="#000"/>
<rect x="573.6" y="389.4" width="19.2" height="254.4" fill="#000"/>
<g fill="none" stroke="#000" stroke-width="1.9">
<rect x="115.8" y="86.8" width="477" height="699.4"/>
<rect x="134.8" y="106.2" width="438.8" height="660.4"/>
<path d="M134.8,86.8V106.2M573.6,86.8V106.2M134.8,766.6V786.2M573.6,766.6V786.2M115.8,105H134.8M573.6,105H592.8M115.8,766.6H134.8M573.6,766.6H592.8"/>
</g>
<text class="ax" transform="translate(30.6,144) scale(1,1.035)">42</text><text class="dg" x="98.6" y="127.8" text-anchor="middle" stroke="#000" stroke-width="0.7">°</text>
<text class="ax" transform="translate(30.6,410) scale(1,1.035)">39</text><text class="dg" x="98.6" y="393.4" text-anchor="middle" stroke="#000" stroke-width="0.7">°</text>
<text class="ax" transform="translate(30.6,665) scale(1,1.035)">36</text><text class="dg" x="98.6" y="647.4" text-anchor="middle" stroke="#000" stroke-width="0.7">°</text>
<text class="ax" transform="translate(216.5,834.2) scale(1,1.035)">111</text><text class="dg" x="313.2" y="818.2" text-anchor="middle" stroke="#000" stroke-width="0.7">°</text>
<text class="ax" transform="translate(419.5,834.2) scale(1,1.035)">114</text><text class="dg" x="515.8" y="818.2" text-anchor="middle" stroke="#000" stroke-width="0.7">°</text>
</g>
</g>
<g transform="translate(585,0)">
<g clip-path="url(#dclip)" stroke="#120a00" stroke-width="1.15" stroke-linejoin="round">
<rect x="160" y="120" width="390" height="650" stroke="none" fill="#ff0000"/>
<path d="M550.8,208.1L539.5,208.1C538.1,208.1 533.5,207.5 530.8,208.1C528.1,208.7 525.4,210 523.3,211.9C521.2,213.7 520.4,216.9 518.3,219.4C516.2,221.9 513.7,225.1 510.8,226.9C507.9,228.6 503.5,230.3 500.8,229.8C498.1,229.4 496.7,226.5 494.6,224.4C492.5,222.2 490.6,218.9 488.3,216.9C486,214.8 483.8,213 480.8,211.9C477.9,210.7 474.6,209.8 470.9,209.9C467.1,210 462.5,212 458.4,212.4C454.2,212.7 450,212.4 445.9,211.9C441.7,211.4 438,209.4 433.4,209.4C428.8,209.4 423,210.6 418.4,211.9C413.8,213.1 409.3,214.4 405.9,216.9C402.6,219.4 401.4,223.3 398.4,226.9C395.5,230.4 392.2,235.2 388.5,238.1C384.7,241 380.1,242.9 376,244.3C371.8,245.8 367.6,246.5 363.5,246.8C359.3,247.2 355,246.3 351,246.3C347,246.3 343.3,246.3 339.7,246.8C336.2,247.3 332.3,248.1 329.8,249.3C327.2,250.6 324.7,252.2 324.3,254.3C323.8,256.4 325.5,259.3 327.3,261.8C329,264.3 332.3,266.4 334.8,269.3C337.2,272.2 340.2,276 342.2,279.3C344.3,282.6 346.1,285.5 347.2,289.3C348.4,293 349.2,297.6 349.2,301.8C349.2,305.9 347.8,310.7 347.2,314.2C346.7,317.8 347,320.5 346,323C344.9,325.5 342.9,326.7 341,329.2C339.1,331.7 337.5,335.7 334.8,338C332,340.3 328.5,341.9 324.8,343C321,344 316.4,344.2 312.3,344.2C308.1,344.2 304,343 299.8,343C295.6,343 291.5,344.6 287.3,344.2C283.1,343.8 278.6,342.4 274.8,340.5C271.1,338.6 267.3,335.9 264.8,333C262.3,330.1 261.1,324.7 259.8,323C258.6,321.3 258.8,323.8 257.3,323C255.9,322.1 253.6,319 251.1,318C248.6,316.9 245.1,316.5 242.4,316.7C239.7,316.9 236.5,318.2 234.9,319.2C233.2,320.3 233,321.5 232.4,323C231.8,324.4 231.5,325.5 231.1,328C230.7,330.5 229.9,334.2 229.9,338C229.9,341.7 230.3,346.3 231.1,350.5C232,354.6 233,358.8 234.9,363C236.7,367.1 240.3,371.3 242.4,375.4C244.4,379.6 246.3,383.8 247.4,387.9C248.4,392.1 249,396.7 248.6,400.4C248.2,404.1 247.2,407.1 244.9,410.4C242.6,413.7 238.6,417.7 234.9,420.4C231.1,423.1 225.9,424.5 222.4,426.6C218.9,428.7 215.4,430.8 213.7,432.9C211.9,434.9 211.5,437 211.9,439.1C212.3,441.2 214,444.5 216.1,445.3C218.3,446.2 221.8,444.5 224.9,444.1C228,443.7 231.5,442.6 234.9,442.9C238.2,443.1 241.9,443.7 244.9,445.3C247.8,447 250.3,449.5 252.4,452.8C254.4,456.2 256.1,460.7 257.3,465.3C258.6,469.9 259.2,474.9 259.8,480.3C260.5,485.7 260.9,492 261.1,497.8C261.3,503.6 261.3,508.4 261.1,515.3C260.9,522.1 260.5,532.8 259.8,539C259.2,545.2 258.6,549.2 257.3,552.5C256.1,555.8 254.9,557.3 252.4,558.7C249.9,560.2 245.7,561 242.4,561.2C239,561.4 235.7,561 232.4,560C229,558.9 224.9,556.7 222.4,555C219.9,553.3 219.5,552.7 217.4,550C215.3,547.3 211.8,541.9 209.9,539C208,536.1 207.8,535.4 206.2,532.7C204.5,530 201.8,526.1 199.9,522.8C198,519.4 197,515.1 194.9,512.8C192.8,510.5 190.3,509 187.4,509C184.5,509 180.7,510.9 177.4,512.8C174.2,514.6 169.7,519 168.2,520.3L160,520.8L160,132L550.8,114.5Z" fill="#fdb928"/>
<path d="M550.8,196.9L539.5,196.4C538.9,196.1 537.6,196 535.8,194.4C533.9,192.8 530.6,190 528.3,186.9C526,183.8 524.1,179.2 522,175.7C520,172.1 517.9,167.8 515.8,165.7C513.7,163.6 511.6,163.2 509.6,163.2C507.5,163.2 505,163.4 503.3,165.7C501.6,168 500.8,172.5 499.6,176.9C498.3,181.3 497.7,187.8 495.8,191.9C493.9,196 492.1,199.5 488.3,201.4C484.6,203.3 478.3,202.5 473.3,203.1C468.4,203.7 463.4,204.8 458.4,204.9C453.4,205 448.4,204.4 443.4,203.9C438.4,203.4 433.4,202.2 428.4,201.9C423.4,201.5 418,201 413.4,201.9C408.8,202.7 404.7,204.6 400.9,206.9C397.2,209.2 393.9,212.7 391,215.6C388,218.5 386.8,221.9 383.5,224.4C380.1,226.9 375.1,229.3 371,230.6C366.8,231.8 361.8,231.7 358.5,231.8C355.2,232 355,231.3 351,231.3C347,231.3 340,231.3 334.8,231.8C329.5,232.3 324.8,233.3 319.8,234.3C314.8,235.4 309.8,236.4 304.8,238.1C299.8,239.8 294.2,242 289.8,244.3C285.4,246.6 281.2,249.5 278.6,251.8C276,254.1 274.5,256.2 274.3,258.1C274.1,259.9 275.2,261.8 277.3,263.1C279.5,264.3 283.6,264.9 287.3,265.6C291.1,266.2 295.6,266.2 299.8,266.8C304,267.4 308.5,268 312.3,269.3C316,270.5 318.9,272.2 322.3,274.3C325.6,276.4 329.3,278.9 332.3,281.8C335.2,284.7 337.9,288 339.7,291.8C341.6,295.5 342.9,300.1 343.5,304.3C344.1,308.4 343.9,313.2 343.5,316.7C343.1,320.3 343.3,323.8 341,325.5C338.7,327.1 332.9,325.5 329.8,326.7C326.6,328 325.6,331.3 322.3,333C318.9,334.7 313.9,336.1 309.8,336.7C305.6,337.4 301.5,337 297.3,336.7C293.1,336.4 288.6,336.2 284.8,335C281.1,333.7 277.1,331.2 274.8,329.2C272.5,327.2 271.5,325.5 271.1,323C270.7,320.5 272.7,316.9 272.3,314.2C271.9,311.5 270.7,308.8 268.6,306.8C266.5,304.7 263.4,302.8 259.8,301.8C256.3,300.7 251.5,300.7 247.4,300.5C243.2,300.3 239,300.9 234.9,300.5C230.7,300.1 225.7,299.5 222.4,298C219.1,296.6 216.8,294.5 214.9,291.8C213,289.1 212,285.5 211.2,281.8C210.3,278 210.2,273.5 209.9,269.3C209.6,265.1 210,261 209.4,256.8C208.8,252.7 207.7,248.1 206.2,244.3C204.6,240.6 202.6,237.3 199.9,234.3C197.2,231.4 193.7,228.7 189.9,226.9C186.2,225 181.1,223.9 177.4,223.1C173.8,222.3 169.7,222.1 168.2,221.9L160,221.4L160,132L550.8,114.5Z" fill="#ffff00"/>
<path d="M550.8,181.2L539.5,180.7C538.9,180 537.4,179 535.8,176.9C534.1,174.8 531.6,171.3 529.5,168.2C527.4,165.1 525.6,160.9 523.3,158.2C521,155.5 518.5,153 515.8,151.9C513.1,150.9 509.8,150.9 507.1,151.9C504.3,153 501.6,155.3 499.6,158.2C497.5,161.1 496.2,165.5 494.6,169.4C492.9,173.4 491.9,178.2 489.6,181.9C487.3,185.7 484.4,189.6 480.8,191.9C477.3,194.2 472.9,194.9 468.4,195.6C463.8,196.3 458.4,196.6 453.4,196.1C448.4,195.7 443.4,194.5 438.4,193.1C433.4,191.8 428.2,189.4 423.4,188.1C418.6,186.9 414,185.4 409.7,185.7C405.3,185.9 401.1,187.3 397.2,189.4C393.2,191.5 389.5,195 386,198.1C382.4,201.3 379.3,205.4 376,208.1C372.6,210.8 370.1,213.2 366,214.4C361.8,215.5 355,214.7 351,214.9C347,215.1 345.8,215.7 342.2,215.6C338.7,215.5 334.3,214.4 329.8,214.4C325.2,214.4 319.4,214.8 314.8,215.6C310.2,216.4 306.5,217.9 302.3,219.4C298.1,220.8 293.8,222.7 289.8,224.4C285.9,226 281.9,227.5 278.6,229.3C275.2,231.2 272.3,233.1 269.8,235.6C267.3,238.1 265,241.2 263.6,244.3C262.1,247.4 261.7,250.6 261.1,254.3C260.5,258.1 260.5,263.1 259.8,266.8C259.2,270.5 258.8,273.8 257.3,276.8C255.9,279.8 253.8,282.9 251.1,284.8C248.4,286.7 244.7,288 241.1,288C237.6,288 233.2,286.7 229.9,284.8C226.6,282.9 223.2,279.8 221.1,276.8C219.1,273.8 218.2,270.5 217.4,266.8C216.6,263.1 216.4,258.9 216.1,254.3C215.9,249.7 216,243.9 216.1,239.3C216.3,234.8 216.6,230.7 216.9,226.9C217.2,223 220.1,218.4 218.1,216.1C216.1,213.8 208.8,214.7 204.9,213.1C201,211.6 198.3,209.4 194.9,206.9C191.6,204.4 188.1,201 184.9,198.1C181.8,195.2 179,191.9 176.2,189.4C173.4,186.9 169.5,184.2 168.2,183.2L160,181.9L160,132L550.8,114.5Z" fill="#e6e6e7"/>
<path d="M218.1,216.1C217.3,213.6 217.6,213.5 219.9,209.4C222.1,205.3 220.7,206.4 224.9,203.9C229,201.4 227.8,201.5 232.4,201.9C237,202.2 235.8,202 238.6,204.9C241.5,207.8 241.3,206.8 240.9,210.6C240.5,214.4 241,213.9 237.4,216.4C233.7,218.9 234.9,217.9 229.9,218.1C224.9,218.3 226.3,217.5 222.4,216.9C218.5,216.2 219,218.6 218.1,216.1Z" fill="#ffff00"/>
<path d="M326,302.3C326,308.8 326.5,306 324.2,312C321.8,318 323.3,315.7 318.9,320.3C314.5,324.9 316.8,323.3 311.1,325.8C305.4,328.3 308,327.7 301.8,327.7C295.6,327.7 298.2,328.3 292.5,325.8C286.8,323.3 289,324.9 284.7,320.3C280.3,315.7 281.8,318 279.4,312C277.1,306 277.6,308.8 277.6,302.3C277.6,295.8 277.1,298.5 279.4,292.5C281.8,286.5 280.3,288.8 284.7,284.2C289,279.7 286.8,281.2 292.5,278.7C298.2,276.2 295.6,276.8 301.8,276.8C308,276.8 305.4,276.2 311.1,278.7C316.8,281.2 314.5,279.7 318.9,284.2C323.3,288.8 321.8,286.5 324.2,292.5C326.5,298.5 326,295.8 326,302.3Z" fill="#e6e6e7"/>
<path d="M440.9,156.9C441.5,151.8 440.1,152.1 443.9,147C447.6,141.8 446,143.7 452.1,141.5C458.2,139.2 455.5,139.2 462.1,140.2C468.8,141.2 467.1,140.1 472.1,144.5C477.1,148.8 475.2,147 477.1,153.2C479,159.4 478.7,157.1 477.8,163.2C477,169.3 478.2,167.5 474.6,171.4C471,175.3 472.9,174.3 467.1,174.9C461.3,175.5 463.8,175.4 457.1,173.2C450.5,170.9 452.1,171.8 447.1,168.2C442.1,164.6 444.2,166.2 442.1,162.4C440.1,158.7 440.3,162.1 440.9,156.9Z" fill="#a5cd58"/>
<path d="M205.4,266.1C205.4,272.7 205.8,269.9 204,276.1C202.3,282.3 203.4,279.9 200.1,284.6C196.9,289.3 198.6,287.7 194.3,290.3C190.1,292.8 192,292.3 187.4,292.3C182.8,292.3 184.8,292.8 180.6,290.3C176.3,287.7 178,289.3 174.7,284.6C171.5,279.9 172.6,282.3 170.8,276.1C169.1,269.9 169.5,272.7 169.5,266.1C169.5,259.4 169.1,262.2 170.8,256C172.6,249.8 171.5,252.2 174.7,247.5C178,242.8 176.3,244.4 180.6,241.8C184.8,239.3 182.8,239.8 187.4,239.8C192,239.8 190.1,239.3 194.3,241.8C198.6,244.4 196.9,242.8 200.1,247.5C203.4,252.2 202.3,249.8 204,256C205.8,262.2 205.4,259.4 205.4,266.1Z" fill="#ff0000"/>
<path d="M307.8,254.3C307.8,254.9 307.8,254.6 307.6,255.2C307.4,255.7 307.5,255.5 307.1,255.9C306.6,256.3 306.8,256.2 306.2,256.4C305.7,256.6 305.9,256.6 305.3,256.6C304.7,256.6 304.9,256.6 304.3,256.4C303.7,256.2 304,256.3 303.5,255.9C303.1,255.5 303.2,255.7 303,255.2C302.7,254.6 302.8,254.9 302.8,254.3C302.8,253.7 302.7,254 303,253.5C303.2,252.9 303.1,253.1 303.5,252.7C304,252.3 303.7,252.5 304.3,252.2C304.9,252 304.7,252.1 305.3,252.1C305.9,252.1 305.7,252 306.2,252.2C306.8,252.5 306.6,252.3 307.1,252.7C307.5,253.1 307.4,252.9 307.6,253.5C307.8,254 307.8,253.7 307.8,254.3Z" fill="#ff0000"/>
<path d="M160,308L168.2,308C170.2,308.1 175.9,308.3 179.9,308.7C184,309.2 188.5,309.4 192.4,310.5C196.4,311.6 200.8,313.5 203.7,315.5C206.6,317.4 208,320.1 209.9,322.2C211.9,324.3 213.9,325.8 215.4,328C216.9,330.2 217.7,331.7 218.6,335.5C219.6,339.2 220.4,345.5 221.1,350.5C221.8,355.5 222.6,360.5 222.9,365.4C223.2,370.4 223.6,375.9 222.9,380.4C222.2,385 221,389.6 218.6,392.9C216.3,396.2 211.6,398.1 208.7,400.4C205.7,402.7 203,404.1 201.2,406.6C199.3,409.1 198.3,411.8 197.4,415.4C196.6,418.9 196.6,423.3 196.2,427.9C195.8,432.4 195.5,437.9 194.9,442.9C194.3,447.8 193.7,452.8 192.4,457.8C191.2,462.8 189.5,468.4 187.4,472.8C185.4,477.2 182.4,480.9 179.9,484C177.4,487.2 174.4,489.7 172.5,491.5C170.5,493.4 168.9,494.7 168.2,495.3L160,495.8Z" fill="#ffff00"/>
<path d="M160,334.2L168.2,334.2C169.7,334.2 173.8,333.8 177.4,334.2C181.1,334.7 186.4,335.7 189.9,336.7C193.5,337.8 196.5,338.6 198.7,340.5C200.8,342.4 202.5,345.5 202.9,348C203.3,350.5 202.5,353.5 201.2,355.5C199.8,357.5 197.6,359.3 194.9,360C192.2,360.6 188.3,359.7 184.9,359.2C181.6,358.7 177.7,357.2 175,356.7C172.2,356.2 169.3,356.1 168.2,356L160,356Z" fill="#e6e6e7"/>
<path d="M160,408.6L168.2,409.1C169.3,410 173,411.8 175,414.1C176.9,416.4 178.7,419.3 179.9,422.9C181.2,426.4 182.2,431.2 182.4,435.4C182.6,439.5 182,444.1 181.2,447.8C180.4,451.6 178.9,454.9 177.4,457.8C176,460.7 174,463.6 172.5,465.3C170.9,467.1 168.9,467.8 168.2,468.3L160,468.8Z" fill="#e6e6e7"/>
<path d="M245.1,501.8C245.1,508.7 245.4,505.7 244.2,512.1C243,518.5 243.8,516 241.6,520.8C239.4,525.7 240.5,524.1 237.7,526.7C234.9,529.3 236.2,528.7 233.1,528.7C230.1,528.7 231.4,529.3 228.5,526.7C225.7,524.1 226.8,525.7 224.7,520.8C222.5,516 223.2,518.5 222.1,512.1C220.9,505.7 221.1,508.7 221.1,501.8C221.1,494.9 220.9,497.8 222.1,491.5C223.2,485.1 222.5,487.6 224.7,482.7C226.8,477.8 225.7,479.5 228.5,476.9C231.4,474.2 230.1,474.8 233.1,474.8C236.2,474.8 234.9,474.2 237.7,476.9C240.5,479.5 239.4,477.8 241.6,482.7C243.8,487.6 243,485.1 244.2,491.5C245.4,497.8 245.1,494.9 245.1,501.8Z" fill="#ffff00"/>
<path d="M160,559.5L168.2,560C169.7,560.8 174.2,563.1 177.4,565C180.7,566.9 183.7,569.1 187.4,571.2C191.2,573.3 196.2,575.6 199.9,577.5C203.7,579.3 207.2,580.4 209.9,582.5C212.6,584.5 214.6,587 216.1,590C217.7,592.9 219,596.2 219.4,599.9C219.8,603.7 219.6,608.3 218.6,612.4C217.7,616.6 215.7,621.2 213.7,624.9C211.6,628.7 208.4,631.6 206.2,634.9C203.9,638.2 201.6,641.6 199.9,644.9C198.3,648.2 197.8,651.7 196.2,654.9C194.5,658 192.6,660.9 189.9,663.6C187.2,666.3 183.6,668.8 179.9,671.1C176.3,673.4 170.2,676.3 168.2,677.3L160,677.8Z" fill="#fdb928"/>
<path d="M160,574.5L168.2,575C169.7,575.6 174.5,577 177.4,578.7C180.4,580.4 183.5,582.3 186.2,585C188.9,587.7 191.8,591.2 193.7,594.9C195.5,598.7 197,603.3 197.4,607.4C197.8,611.6 197,615.8 196.2,619.9C195.3,624.1 193.9,628.2 192.4,632.4C191,636.6 189.3,641.1 187.4,644.9C185.6,648.6 183.7,652.2 181.2,654.9C178.7,657.6 174.6,659.8 172.5,661.1C170.3,662.4 168.9,662.6 168.2,662.9L160,663.4Z" fill="#ffff00"/>
<path d="M160,593.2L168.2,593.7C168.9,594.3 171.1,595.4 172.5,597.4C173.8,599.5 175.4,602.9 176.2,606.2C177,609.5 177.6,613.7 177.4,617.4C177.3,621.2 176.4,625.1 175.4,628.7C174.5,632.2 173.2,636.1 172,638.6C170.7,641.1 168.8,642.8 168.2,643.6L160,644.1Z" fill="#e6e6e7"/>
<path d="M160,709.3L168.2,709.8C169.3,710.6 173,712.9 175,714.8C176.9,716.7 178.7,719.2 179.9,721C181.2,722.9 182,725.2 182.4,726L182.9,734.8L160,734.8Z" fill="#fdb928"/>
<path d="M351,477.8C348.9,478.9 348.5,477.4 344.7,481.6C341,485.7 341.8,483.2 339.7,490.3C337.7,497.4 338.5,494.5 338.5,502.8C338.5,511.1 338.5,506.9 339.7,515.3C341,523.6 340.7,519.8 342.2,527.7C343.7,535.7 342.6,531.1 344.2,539C345.9,546.8 345,545.9 347.2,551.2C349.5,556.6 345.6,553.1 351,555C356.4,556.9 354.3,556.6 363.5,557C372.6,557.4 370.1,557.3 378.5,556.2C386.8,555.2 383,555.8 388.5,553.7C393.9,551.7 391,557 394.7,550C398.4,543 397.6,542.7 399.7,532.7C401.8,522.8 400.1,528.6 400.9,520.3C401.8,511.9 402.2,516.1 402.2,507.8C402.2,499.4 402.6,502.8 400.9,495.3C399.3,487.8 401.4,490.3 397.2,485.3C393,480.3 395.5,482.4 388.5,480.3C381.4,478.2 384.3,479.5 376,479.1C367.6,478.6 371.8,479.3 363.5,479.1C355.2,478.8 355.2,478.7 351,478.3C346.8,477.9 353.1,476.7 351,477.8Z" fill="#fdb928"/>
<path d="M351,489C355.6,483.9 353.5,487.7 361,487.3C368.5,486.9 365.6,486.4 373.5,487.8C381.4,489.2 378.9,487.8 384.7,491.5C390.5,495.3 387.9,492.8 391,499C394,505.3 393.1,502.4 393.9,510.3C394.8,518.2 394.9,515.3 393.4,522.8C392,530.2 393.9,527.1 389.7,532.7C385.5,538.4 388,536.6 381,539.7C373.9,542.9 376.8,542.1 368.5,542.2C360.2,542.4 362.9,544.2 356,540.2C349.1,536.2 350.8,538.6 347.7,530.2C344.6,521.9 346.9,524.4 346.7,515.3C346.6,506.1 345.8,511.5 347.2,502.8C348.7,494 346.4,494.2 351,489Z" fill="#ffff00"/>
<path d="M386,517.8C386,522.7 386.3,520.6 384.8,525.2C383.3,529.8 384.2,528 381.4,531.5C378.6,535 380,533.8 376.4,535.7C372.8,537.7 374.4,537.2 370.5,537.2C366.5,537.2 368.2,537.7 364.6,535.7C360.9,533.8 362.3,535 359.5,531.5C356.7,528 357.7,529.8 356.2,525.2C354.7,520.6 355,522.7 355,517.8C355,512.8 354.7,514.9 356.2,510.3C357.7,505.7 356.7,507.5 359.5,504C362.3,500.5 360.9,501.7 364.6,499.8C368.2,497.9 366.5,498.3 370.5,498.3C374.4,498.3 372.8,497.9 376.4,499.8C380,501.7 378.6,500.5 381.4,504C384.2,507.5 383.3,505.7 384.8,510.3C386.3,514.9 386,512.8 386,517.8Z" fill="#e6e6e7"/>
<path d="M388.5,323C390.1,320.1 388.5,318.8 393.4,314.2C398.4,309.7 395.9,311.3 403.4,309.2C410.9,307.2 408.4,306.8 415.9,308C423.4,309.2 420.1,309.2 425.9,313C431.7,316.7 429.2,315.9 433.4,319.2C437.6,322.6 435.9,320.1 438.4,323C440.9,325.9 439.2,323 440.9,328C442.6,333 443,330.9 443.4,338C443.8,345.1 444.6,342.1 442.1,349.2C439.6,356.3 441.3,353.8 435.9,359.2C430.5,364.6 433.4,362.1 425.9,365.4C418.4,368.8 421.7,367.1 413.4,369.2C405.1,371.3 408.4,369.2 400.9,371.7C393.4,374.2 395.5,372.1 391,376.7C386.4,381.3 389.7,378.3 387.2,385.4C384.7,392.5 386.4,391.2 383.5,397.9C380.5,404.6 382.2,401.4 378.5,405.4C374.7,409.4 376.8,408.6 372.2,409.9C367.6,411.1 369.3,411.5 364.7,409.1C360.2,406.8 361.2,408.3 358.5,402.9C355.7,397.5 356.1,399.6 356.5,392.9C356.9,386.3 356.6,389.2 359.7,382.9C362.9,376.7 360.6,379.6 366,374.2C371.4,368.8 371,372.9 376,366.7C381,360.5 378.9,362.5 381,355.5C383,348.4 380.5,353 382.2,345.5C383.9,338 383.9,340.5 386,333C388,325.5 387.6,326.3 388.5,323C389.3,319.7 386.8,325.9 388.5,323Z" fill="#fdb928"/>
<path d="M513,301.8C513,304.2 513.2,303.2 512.4,305.4C511.7,307.6 512.1,306.8 510.7,308.5C509.3,310.2 510,309.6 508.1,310.5C506.2,311.4 507.1,311.2 505.1,311.2C503,311.2 503.9,311.4 502,310.5C500.1,309.6 500.8,310.2 499.4,308.5C498,306.8 498.5,307.6 497.7,305.4C496.9,303.2 497.1,304.2 497.1,301.8C497.1,299.3 496.9,300.4 497.7,298.1C498.5,295.9 498,296.8 499.4,295C500.8,293.3 500.1,293.9 502,293C503.9,292.1 503,292.3 505.1,292.3C507.1,292.3 506.2,292.1 508.1,293C510,293.9 509.3,293.3 510.7,295C512.1,296.8 511.7,295.9 512.4,298.1C513.2,300.4 513,299.3 513,301.8Z" fill="#fdb928"/>
<path d="M448.4,539C449.2,537.7 451.1,533.6 453.4,531.5C455.7,529.4 458.8,527.5 462.1,526.5C465.4,525.5 469.6,525.2 473.3,525.2C477.1,525.2 481.5,525.5 484.6,526.5C487.7,527.5 490.2,529.4 492.1,531.5C493.9,533.6 494.8,535.9 495.8,539C496.9,542.1 498.1,546.5 498.3,550C498.5,553.5 497.9,556.2 497.1,560C496.2,563.7 495.2,568.7 493.3,572.5C491.4,576.2 488.7,579.8 485.8,582.5C482.9,585.2 478.8,586.8 475.8,588.7C472.9,590.6 469.9,591.6 468.4,593.7C466.8,595.8 465.9,599 466.4,601.2C466.8,603.4 468.4,605.7 470.9,606.9C473.3,608.2 477.5,608 480.8,608.7C484.2,609.4 487.9,609.5 490.8,611.2C493.7,612.8 496.7,615.5 498.3,618.7C500,621.8 500.2,625.5 500.8,629.9C501.4,634.3 502.1,639.9 502.1,644.9C502.1,649.9 501.6,654.9 500.8,659.9C500,664.9 498.1,670.3 497.1,674.8C496,679.4 494.4,683.8 494.6,687.3C494.8,690.9 496,694.1 498.3,696.1C500.6,698.1 504.6,699.1 508.3,699.3C512,699.5 516.6,698.5 520.8,697.3C524.9,696.2 530.2,693.6 533.3,692.3C536.4,691.1 538.5,690.2 539.5,689.8L550.8,688.6L550.8,737.3L378,737.3L378,725.5C378.5,722.9 379.4,714.1 381,709.8C382.5,705.5 384.7,702.3 387.2,699.8C389.7,697.3 392.8,696.3 395.9,694.8C399.1,693.4 402.6,692.7 405.9,691.1C409.3,689.4 413.2,687.3 415.9,684.8C418.6,682.3 419.9,679.2 422.2,676.1C424.4,673 427.2,669.2 429.7,666.1C432.1,663 435.2,660.5 437.1,657.4C439.1,654.2 441,650.9 441.4,647.4C441.8,643.8 440.8,639.5 439.6,636.1C438.5,632.8 436.9,630.1 434.6,627.4C432.4,624.7 428.6,622.6 425.9,619.9C423.2,617.2 420.1,614.5 418.4,611.2C416.8,607.8 415.9,603.5 415.9,599.9C415.9,596.4 416.8,593.3 418.4,590C420.1,586.6 423.2,583.1 425.9,580C428.6,576.8 431.9,574.6 434.6,571.2C437.4,567.9 440.5,563.5 442.1,560C443.8,556.5 444.2,551.7 444.6,550Z" fill="#fdb928"/>
<path d="M433.4,725.5C434,724.2 435.1,719.7 437.1,717.3C439.2,714.9 442.3,712.5 445.9,711C449.4,709.6 454.2,709 458.4,708.6C462.5,708.1 467.5,707.9 470.9,708.6C474.2,709.2 476.7,710.4 478.3,712.3C480,714.2 480.4,717.6 480.8,719.8C481.3,722 480.8,724.6 480.8,725.5L480.8,737.3L433.4,737.3Z" fill="#ff0000"/>
<path d="M485.3,562C485.3,565.8 485.6,564.2 484.2,567.7C482.8,571.2 483.7,569.9 481.1,572.6C478.5,575.3 479.8,574.4 476.4,575.8C473,577.3 474.5,577 470.9,577C467.2,577 468.7,577.3 465.3,575.8C461.9,574.4 463.2,575.3 460.6,572.6C458,569.9 458.9,571.2 457.5,567.7C456.1,564.2 456.4,565.8 456.4,562C456.4,558.2 456.1,559.8 457.5,556.3C458.9,552.7 458,554.1 460.6,551.4C463.2,548.7 461.9,549.6 465.3,548.1C468.7,546.7 467.2,547 470.9,547C474.5,547 473,546.7 476.4,548.1C479.8,549.6 478.5,548.7 481.1,551.4C483.7,554.1 482.8,552.7 484.2,556.3C485.6,559.8 485.3,558.2 485.3,562Z" fill="#ffff00"/>
<path d="M450.9,624.9C453,618.7 450.9,621.2 455.9,618.7C460.9,616.2 458.4,617.2 465.9,617.4C473.3,617.7 470.9,616.9 478.3,619.4C485.8,621.9 483.3,619.7 488.3,624.9C493.3,630.1 491.2,627.4 493.3,634.9C495.4,642.4 495,639.1 494.6,647.4C494.2,655.7 495,651.5 492.1,659.9C489.2,668.2 491.2,664.9 485.8,672.3C480.4,679.8 483.3,676.9 475.8,682.3C468.4,687.7 471.7,685.2 463.4,688.6C455,691.9 458.8,690.4 450.9,692.3C443,694.2 445.5,695.2 439.6,694.3C433.8,693.5 435.5,694.2 433.4,689.8C431.3,685.4 431.7,686.9 433.4,681.1C435.1,675.3 434.6,678.6 438.4,672.3C442.1,666.1 441.3,669.9 444.6,662.4C448,654.9 446.7,658.2 448.4,649.9C450,641.6 448.8,645.7 449.6,637.4C450.5,629.1 448.8,631.1 450.9,624.9Z" fill="#ffff00"/>
<path d="M482.8,647.9C482.8,651.8 483.1,650.2 482,653.8C480.9,657.5 481.6,656 479.5,658.8C477.5,661.6 478.5,660.7 475.9,662.2C473.3,663.7 474.5,663.4 471.6,663.4C468.7,663.4 469.9,663.7 467.3,662.2C464.7,660.7 465.7,661.6 463.7,658.8C461.6,656 462.3,657.5 461.2,653.8C460.1,650.2 460.4,651.8 460.4,647.9C460.4,643.9 460.1,645.6 461.2,642C462.3,638.3 461.6,639.7 463.7,636.9C465.7,634.1 464.7,635.1 467.3,633.6C469.9,632.1 468.7,632.4 471.6,632.4C474.5,632.4 473.3,632.1 475.9,633.6C478.5,635.1 477.5,634.1 479.5,636.9C481.6,639.7 480.9,638.3 482,642C483.1,645.6 482.8,643.9 482.8,647.9Z" fill="#e6e6e7"/>
<path d="M441.4,601.7C441.4,602.1 441.4,601.9 441.3,602.3C441.1,602.6 441.2,602.5 440.9,602.7C440.6,603 440.7,602.9 440.3,603.1C439.9,603.2 440.1,603.2 439.6,603.2C439.2,603.2 439.4,603.2 439,603.1C438.6,602.9 438.7,603 438.4,602.7C438.1,602.5 438.2,602.6 438,602.3C437.9,601.9 437.9,602.1 437.9,601.7C437.9,601.3 437.9,601.5 438,601.1C438.2,600.8 438.1,600.9 438.4,600.6C438.7,600.4 438.6,600.4 439,600.3C439.4,600.2 439.2,600.2 439.6,600.2C440.1,600.2 439.9,600.2 440.3,600.3C440.7,600.4 440.6,600.4 440.9,600.6C441.2,600.9 441.1,600.8 441.3,601.1C441.4,601.5 441.4,601.3 441.4,601.7Z" fill="#fdb928"/>
<path d="M388.5,725.5C389.1,724.2 390.5,719.7 392.2,717.3C393.9,714.9 395.9,712.6 398.4,711C400.9,709.5 404.5,708 407.2,707.8C409.9,707.6 412.6,708.4 414.7,709.8C416.8,711.2 418.5,713.4 419.7,716C420.8,718.7 421.3,723.9 421.7,725.5L421.7,737.3L388.5,737.3Z" fill="#ffff00"/>
<path d="M498.3,725.5C499.6,724.6 502.9,721.8 505.8,719.8C508.7,717.8 512,715.4 515.8,713.5C519.5,711.7 524.3,710 528.3,708.6C532.2,707.1 537.6,705.4 539.5,704.8L550.8,702.3L550.8,737.3L498.3,737.3Z" fill="#ffff00"/>
</g>
<rect x="136" y="108" width="302" height="60" fill="#fff"/>
<g clip-path="url(#mclip)" fill="none" stroke="#cacbcc" stroke-width="5.0" stroke-linejoin="miter" stroke-miterlimit="3">
<path d="M132.5,193.1L135,194.4L147.5,201.9L165,214.9L179.9,220.6L192.4,226.4L204.9,233.8L219.9,236.8L239.9,237.3L259.8,235.6L277.3,231.8L294.8,224.4L309.8,219.4L322.3,216.9L334.8,216.4L351,219.9L361,223.9L371,228.1L383.5,228.8L398.4,229.3L413.4,234.3L428.4,239.3L440.9,242.3L455.9,240.6L470.9,238.8L485.8,236.8L500.8,234.3L513.3,228.8L523.3,223.1L535.8,224.9L550.8,229.3L567,234.3L578.2,237.3"/>
<path d="M132.5,256.3L152.5,259.8L170,264.3L184.9,268L197.4,269.3L212.4,268L227.4,266.3L239.9,269.3L254.9,275.5L269.8,281.8L284.8,286.3L299.8,289.8L314.8,291.8L329.8,291.3L351,289.3L371,288.8L378.5,293L388.5,300.5L398.4,306.8L404.7,310.5L400.9,319.2L397.2,323L388.5,338L382.2,349.2L364.7,356.7L359.7,363L368.5,367.9L377.2,372.9L379.7,385.4L381,397.9L378.5,410.4L376,422.9L373.5,435.4L372.2,447.8L373,462.8L369.7,477.8L364.7,492.8L359.7,504L351,510.3L339.7,520.3L324.8,532.7L316,539L317.3,550L315.3,565L312.8,580L309.8,594.9L306,609.9L302.3,624.9L294.8,637.4L287.3,647.4L279.8,656.1L272.3,663.6L259.8,661.9L248.6,660.4L242.4,667.4L236.1,679.8L232.4,692.3L229.9,702.3L222.4,712.3L212.4,722.3L202.4,731L192.4,738.5L179.9,744.8L167.5,748.5L150,749.8L132.5,751.2"/>
<path d="M578.2,281.8L567,288L555.7,293L545.8,299.3L535.8,306.8L525.8,314.2L513.3,319.2L500.8,321.7L495.8,325.5L498.3,335.5L495.8,348L483.3,354.2L468.4,355.5L463.4,360.5L450.9,364.2L433.4,370.4L418.4,375.4L407.2,384.2L398.4,396.7L407.2,404.1L414.7,411.6L417.2,422.9L408.4,432.9L398.4,442.9L392.2,447.8L389.7,457.8L386,472.8L383.5,485.3L386,497.8L389.7,510.3L388.5,520.3L376,526.5L363.5,534L356,539L351,553.7L342.2,560L334.8,570L328.5,582.5L326,590L326,604.9L327.3,622.4L328.5,639.9L331,659.9L322.3,669.9L314.8,681.1L309.8,693.6L299.8,706.1L287.3,716L277.3,721.8L284.8,728.5L296,738.5L287.3,747.3L277.3,754.7L264.8,759.7L249.9,759.2L234.9,758.5L217.4,757.2L202.4,755.2L179.9,755.2L184.9,761L191.2,766L194.9,769.7"/>
<path d="M544.5,422.9L530.8,436.6L520.8,447.8L510.8,460.3L504.6,472.8L502.8,485.3L503.8,502.8L506.3,520.3L510.8,539L512,550L507.1,570L504.6,587.5L502.8,604.9L500.8,622.4L499.6,637.4L497.1,652.4L493.3,667.4L487.1,682.3L478.3,697.3L470.9,708.6" clip-path="url(#dclip)"/>
</g>
<text class="ser" x="148.6" y="151.2">(b) mantle</text>
<g>
<path d="M115.8,86.8H592.8V786.2H115.8Z M134.8,106.2V766.6H573.6V106.2Z" fill="#fff" fill-rule="evenodd"/>
<rect x="134.8" y="86.8" width="134.6" height="19.4" fill="#000"/>
<rect x="472.3" y="86.8" width="101.3" height="19.4" fill="#000"/>
<rect x="134.8" y="766.6" width="134.6" height="19.6" fill="#000"/>
<rect x="472.3" y="766.6" width="101.3" height="19.6" fill="#000"/>
<rect x="115.8" y="105" width="19" height="18.8" fill="#000"/>
<rect x="115.8" y="389.4" width="19" height="254.4" fill="#000"/>
<rect x="573.6" y="105" width="19.2" height="18.8" fill="#000"/>
<rect x="573.6" y="389.4" width="19.2" height="254.4" fill="#000"/>
<g fill="none" stroke="#000" stroke-width="1.9">
<rect x="115.8" y="86.8" width="477" height="699.4"/>
<rect x="134.8" y="106.2" width="438.8" height="660.4"/>
<path d="M134.8,86.8V106.2M573.6,86.8V106.2M134.8,766.6V786.2M573.6,766.6V786.2M115.8,105H134.8M573.6,105H592.8M115.8,766.6H134.8M573.6,766.6H592.8"/>
</g>
<text class="ax" transform="translate(30.6,144) scale(1,1.035)">42</text><text class="dg" x="98.6" y="127.8" text-anchor="middle" stroke="#000" stroke-width="0.7">°</text>
<text class="ax" transform="translate(30.6,410) scale(1,1.035)">39</text><text class="dg" x="98.6" y="393.4" text-anchor="middle" stroke="#000" stroke-width="0.7">°</text>
<text class="ax" transform="translate(30.6,665) scale(1,1.035)">36</text><text class="dg" x="98.6" y="647.4" text-anchor="middle" stroke="#000" stroke-width="0.7">°</text>
<text class="ax" transform="translate(216.5,834.2) scale(1,1.035)">111</text><text class="dg" x="313.2" y="818.2" text-anchor="middle" stroke="#000" stroke-width="0.7">°</text>
<text class="ax" transform="translate(419.5,834.2) scale(1,1.035)">114</text><text class="dg" x="515.8" y="818.2" text-anchor="middle" stroke="#000" stroke-width="0.7">°</text>
</g>
</g>
<g transform="translate(1170,0)">
<g clip-path="url(#dclip)" stroke="#120a00" stroke-width="1.15" stroke-linejoin="round">
<rect x="160" y="120" width="390" height="650" stroke="none" fill="#00bfff"/>
<path d="M337.7,156.9L337.2,167.7C336.4,169.2 334.3,174.1 332.3,176.9C330.2,179.7 327.7,182.3 324.8,184.4C321.8,186.5 318.5,187.9 314.8,189.4C311,190.9 306.9,192 302.3,193.1C297.7,194.3 292.3,195.3 287.3,196.4C282.3,197.4 276.9,198.3 272.3,199.4C267.8,200.5 263.6,201.7 259.8,203.1C256.1,204.6 252.8,206 249.9,208.1C246.9,210.2 245.3,213.5 242.4,215.6C239.5,217.7 235.7,219.2 232.4,220.6C229,222.1 225.3,222.9 222.4,224.4C219.5,225.8 216.8,227.3 214.9,229.3C213,231.4 212.1,233.9 211.2,236.8C210.2,239.8 209.6,243.1 209.4,246.8C209.2,250.6 209.6,255.1 209.9,259.3C210.2,263.5 210.3,268 211.2,271.8C212,275.5 213,278.9 214.9,281.8C216.8,284.7 219.5,287.2 222.4,289.3C225.3,291.4 229,292.6 232.4,294.3C235.7,295.9 239.5,297.2 242.4,299.3C245.3,301.3 247.8,303.8 249.9,306.8C251.9,309.7 253.2,314 254.9,316.7C256.5,319.4 257.8,319.9 259.8,323C261.9,326.1 265.5,331.3 267.3,335.5C269.2,339.6 270.2,343.8 271.1,348C271.9,352.1 271.5,356.3 272.3,360.5C273.2,364.6 274.6,368.8 276.1,372.9C277.5,377.1 279.2,381.7 281.1,385.4C282.9,389.2 285,392.5 287.3,395.4C289.6,398.3 292.3,400.4 294.8,402.9C297.3,405.4 300.2,407.5 302.3,410.4C304.4,413.3 306.5,417 307.3,420.4C308.1,423.7 308.3,427 307.3,430.4C306.2,433.7 304,438.1 301,440.4C298.1,442.6 293.8,443.1 289.8,444.1C285.9,445.1 281.1,445.1 277.3,446.6C273.6,448.1 270.5,450.1 267.3,452.8C264.2,455.5 261.5,459.5 258.6,462.8C255.7,466.2 253,469.9 249.9,472.8C246.7,475.7 243,479.3 239.9,480.3C236.7,481.3 233.6,480.7 231.1,479.1C228.6,477.4 226.1,474.3 224.9,470.3C223.6,466.4 223.6,460.3 223.6,455.3C223.7,450.3 224.6,444.9 225.4,440.4C226.2,435.8 227.1,431.6 228.6,427.9C230.2,424.1 232.2,421.2 234.9,417.9C237.6,414.6 241.9,411.2 244.9,407.9C247.8,404.6 250.7,401.7 252.4,397.9C254,394.2 254.9,389.6 254.9,385.4C254.9,381.3 254.2,377.1 252.4,372.9C250.5,368.8 246.7,364.6 243.6,360.5C240.5,356.3 236.5,352.1 233.6,348C230.7,343.8 228.2,339.6 226.1,335.5C224.1,331.3 223,325.7 221.1,323C219.3,320.3 216.8,321.5 214.9,319.2C213,316.9 211.6,312.6 209.9,309.2C208.2,305.9 207,302.6 204.9,299.3C202.8,295.9 200.3,292.2 197.4,289.3C194.5,286.4 190.8,283.9 187.4,281.8C184.1,279.7 180.7,278 177.4,276.8C174.2,275.5 169.7,274.7 168.2,274.3L160,273.8L160,722.8L168.2,722.3C170.2,722.1 175.9,721.5 179.9,721C184,720.5 188.3,720.1 192.4,719.3C196.6,718.5 200.8,717.2 204.9,716C209.1,714.9 213.9,714.2 217.4,712.3C220.9,710.4 223.8,707.7 226.1,704.8C228.4,701.9 229.7,698.1 231.1,694.8C232.6,691.5 233.6,688.2 234.9,684.8C236.1,681.5 237.2,678 238.6,674.8C240.1,671.7 241.7,668.2 243.6,666.1C245.5,664 247.2,663 249.9,662.4C252.6,661.7 255.7,662.2 259.8,662.4C264,662.6 269.8,663.2 274.8,663.6C279.8,664 285.2,664.9 289.8,664.9C294.4,664.9 298.8,664.6 302.3,663.6C305.8,662.6 308.9,660.9 311,658.6C313.2,656.3 314.7,653 315.3,649.9C315.9,646.8 315.5,643 314.8,639.9C314.1,636.8 312.3,633.6 311,631.1C309.8,628.7 308.7,627.2 307.3,624.9C305.8,622.6 304,619.9 302.3,617.4C300.6,614.9 299,612.8 297.3,609.9C295.6,607 294,603.3 292.3,599.9C290.6,596.6 289.4,592.9 287.3,590C285.2,587 282.7,584.5 279.8,582.5C276.9,580.5 273.6,578.9 269.8,578C266.1,577 261.5,576.7 257.3,577C253.2,577.2 248.6,578.1 244.9,579.5C241.1,580.8 237.8,582.8 234.9,585C232,587.1 229.5,589.5 227.4,592.4C225.3,595.4 223.6,599.1 222.4,602.4C221.1,605.8 220.9,610.1 219.9,612.4C218.9,614.7 217.5,616.4 216.1,616.2C214.8,616 212.9,613.9 211.9,611.2C210.9,608.5 210.4,603.9 210.4,599.9C210.4,596 211.2,591.6 211.9,587.5C212.7,583.3 213.6,578.7 214.9,575C216.2,571.2 217.8,567.9 219.9,565C222,562.1 224.5,559.6 227.4,557.5C230.3,555.4 234,553.7 237.4,552.5C240.7,551.2 242.8,551.5 247.4,550C251.9,548.5 259,545.3 264.8,543.8C270.7,542.2 278.1,541.1 282.3,540.5C286.5,539.9 287.7,540.1 290,540.1C292.3,540.1 294.2,540.8 296.4,540.4C298.5,540.1 300.6,539.4 302.7,538.2C304.8,536.9 307.2,535.2 309.1,533.1C311,530.9 312.8,528 314.2,525.4C315.5,522.9 316.3,520.3 317.3,517.8C318.4,515.3 319.5,512.5 320.5,510.2C321.6,507.8 322.8,505.5 323.7,503.8C324.7,502.1 324,502.3 326.2,500C328.5,497.7 334.2,493.6 337.2,490.3C340.3,487 342.4,482.8 344.7,480.3C347,477.8 348.7,477.8 351,475.3C353.3,472.8 355.6,467.8 358.5,465.3C361.4,462.8 364.7,461.6 368.5,460.3C372.2,459.1 376.8,457.9 381,457.8C385.1,457.7 389.7,458.8 393.4,459.8C397.2,460.9 400.7,461.9 403.4,464.1C406.1,466.2 408.2,469.3 409.7,472.8C411.1,476.3 411.6,480.7 412.2,485.3C412.7,489.9 412.6,495.3 412.9,500.3C413.2,505.3 413.4,510.6 413.9,515.3C414.4,519.9 415.3,524.3 415.8,528.2C416.3,532 416.2,536 417.1,538.3C417.9,540.7 419,541.3 420.9,542.1C422.8,543 426,543 428.5,543.4C431,543.8 433.8,543.9 436.1,544.7C438.5,545.4 440.7,546.4 442.5,547.9C444.3,549.4 445.8,551.6 446.9,553.6C448.1,555.6 449,556.8 449.6,560C450.3,563.1 450.3,568.3 450.9,572.5C451.5,576.6 452.1,580.8 453.4,585C454.6,589.1 456.3,593.9 458.4,597.4C460.4,601 463.4,604.4 465.9,606.2C468.4,607.9 470.6,609 473.3,607.9C476.1,606.9 479.6,603.3 482.1,599.9C484.6,596.5 486.7,591.6 488.3,587.5C490,583.3 491.2,579.1 492.1,575C493,570.8 493.4,566.6 493.8,562.5C494.2,558.3 494.7,552.3 494.6,550C494.5,547.7 493.6,550 493.1,548.5C492.6,547 492.5,543 491.5,540.9C490.4,538.8 489,537.2 487,535.8C485,534.4 481.9,533.7 479.4,532.6C476.8,531.5 473.9,530.8 471.7,529.4C469.6,528 467.8,526.7 466.7,524.3C465.5,522 465.1,519 464.8,515.4C464.4,511.8 464.4,507.3 464.4,502.7C464.3,498.1 464.8,491.1 464.6,487.8C464.4,484.5 464,486.1 463.4,482.8C462.7,479.5 461.9,472.4 460.9,467.8C459.8,463.2 458.8,458.7 457.1,455.3C455.5,452 453.4,449.9 450.9,447.8C448.4,445.8 444.8,444.7 442.1,442.9C439.4,441 436.3,439.1 434.6,436.6C433,434.1 432.4,431.4 432.1,427.9C431.9,424.3 432.6,420 433.4,415.4C434.2,410.8 435.9,405.4 437.1,400.4C438.4,395.4 439.2,390.2 440.9,385.4C442.6,380.6 444.6,375.9 447.1,371.7C449.6,367.5 452.7,363.8 455.9,360.5C459,357.1 462.5,354.6 465.9,351.7C469.2,348.8 472.9,346.1 475.8,343C478.8,339.9 481.5,336.3 483.3,333C485.2,329.7 486.5,325.7 487.1,323C487.7,320.3 486.7,319.4 487.1,316.7C487.5,314 488.3,310.1 489.6,306.8C490.8,303.4 492.3,299.5 494.6,296.8C496.9,294.1 500.2,292.2 503.3,290.5C506.4,288.9 510.4,288.2 513.3,286.8C516.2,285.3 518.9,284.3 520.8,281.8C522.7,279.3 523.7,276 524.5,271.8C525.4,267.6 525.4,262.2 525.8,256.8C526.2,251.4 526.7,245.2 527,239.3C527.4,233.5 527.4,227.7 527.8,221.9C528.2,216 528.8,210.2 529.5,204.4C530.2,198.6 531.5,192.7 532,186.9C532.6,181.1 532.8,174.8 532.8,169.4C532.8,164 532.6,159 532,154.4C531.5,149.9 531,145.3 529.5,142C528.1,138.6 526,136.2 523.3,134.5C520.6,132.7 517,131.9 513.3,131.5C509.6,131.1 505.4,131.6 500.8,132C496.2,132.4 490.6,133.6 485.8,134C481,134.4 476.7,134.3 472.1,134.5C467.5,134.6 460.7,134.9 458.4,135L433.4,135L433.4,114.5Z" fill="#a5cd58"/>
<path d="M366.3,539.4C372.7,537.7 369.7,538.6 376.5,538.8C383.3,539 379.5,538.8 386.7,540.1C393.9,541.3 390.9,540.9 398.1,542.6C405.3,544.3 403.4,542.8 408.3,545.2C413.2,547.5 410.8,545.6 412.7,549.6C414.6,553.6 413.7,551.3 414,557.2C414.3,563.2 414,560.6 413.6,567.4C413.2,574.2 413.7,570.8 412.7,577.6C411.8,584.4 412.3,581.4 410.8,587.8C409.3,594.1 410.4,591.4 408.3,596.7C406.2,602 407.9,600.3 404.5,603.7C401.1,607 403.2,606.2 398.1,606.6C393,607 395.6,606.8 389.2,604.9C382.8,603.1 385.8,603.2 379,601.1C372.2,599 375.6,599.6 368.9,598.6C362.1,597.5 365,598.1 358.7,597.9C352.3,597.7 354.9,598.6 349.8,597.9C344.7,597.3 346.7,598.4 343.4,596C340.1,593.7 341.2,595.4 339.9,590.9C338.5,586.5 339.2,588.4 339.3,582.7C339.5,576.9 339.5,579.7 340.2,573.8C341,567.8 340.2,570.2 341.5,564.9C342.8,559.6 341.3,562.5 344.1,557.9C346.8,553.2 345.3,555.5 349.8,550.9C354.2,546.2 351.9,547.7 357.4,543.9C362.9,540.1 360,541.1 366.3,539.4Z" fill="#a5cd58"/>
<path d="M318.5,729.8L318.5,726C319.6,725 322.5,722.5 324.8,719.8C327.1,717.1 330.2,713.1 332.3,709.8C334.3,706.5 335.6,703.1 337.2,699.8C338.9,696.5 340.4,692.7 342.2,689.8C344.1,686.9 345.8,685 348.5,682.3C351.2,679.6 355.2,675.1 358.5,673.6C361.8,672.1 365.6,672.8 368.5,673.6C371.4,674.4 374.4,676.3 376,678.6C377.6,680.9 378.2,684.4 378,687.3C377.8,690.2 376.7,693.6 374.7,696.1C372.7,698.6 369.1,700.6 366,702.3C362.9,704 359.1,704.4 356,706.1C352.9,707.7 349.7,710 347.2,712.3C344.7,714.6 342.7,717.5 341,719.8C339.3,722.1 337.9,725 337.2,726L336.7,729.8Z" fill="#a5cd58"/>
<path d="M160,174.9L168.2,174.4C168.9,174.1 171.3,173.5 172.5,172.4C173.6,171.3 174.5,168.5 175,167.7L175,156.9L160,156.9Z" fill="#a5cd58"/>
<path d="M224.9,156.9L224.9,167.7C225.1,168.8 225.1,172.4 226.1,174.4C227.2,176.5 229.3,178.9 231.1,179.9C233,180.9 235.6,181.4 237.4,180.7C239.2,180 241,177.8 241.9,175.7C242.8,173.5 242.7,169 242.9,167.7L242.9,156.9Z" fill="#a5cd58"/>
<path d="M160,286.3L168.2,286.8C169.7,287.4 174.2,288.9 177.4,290.5C180.7,292.2 184.5,294.3 187.4,296.8C190.3,299.3 192.6,302.4 194.9,305.5C197.2,308.6 199.5,312.6 201.2,315.5C202.8,318.4 203,321.7 204.9,323C206.8,324.2 210.3,320.9 212.4,323C214.5,325.1 215.3,330.9 217.4,335.5C219.5,340.1 222,345.5 224.9,350.5C227.8,355.5 232,360.9 234.9,365.4C237.8,370 240.8,373.8 242.4,377.9C243.9,382.1 244.8,386.3 244.4,390.4C243.9,394.6 242.1,399.2 239.9,402.9C237.7,406.6 233.8,409.6 231.1,412.9C228.4,416.2 225.7,419.1 223.6,422.9C221.6,426.6 219.9,430.8 218.6,435.4C217.4,439.9 217,445.3 216.1,450.3C215.3,455.3 214.2,460.3 213.7,465.3C213.1,470.3 212.3,476.3 212.9,480.3C213.5,484.3 215,487 217.4,489C219.8,491.1 223.6,492.5 227.4,492.8C231.1,493.1 235.7,492 239.9,490.8C244,489.5 248.6,487.9 252.4,485.3C256.1,482.7 259,478.6 262.3,475.3C265.7,472 268.6,467.8 272.3,465.3C276.1,462.8 280.7,461.4 284.8,460.3C289,459.3 293.1,459.9 297.3,459.1C301.5,458.2 306.7,457.6 309.8,455.3C312.9,453 314.6,449.5 316,445.3C317.5,441.2 318.3,435.4 318.5,430.4C318.7,425.4 318.3,419.5 317.3,415.4C316.2,411.2 314.8,408.3 312.3,405.4C309.8,402.5 305.2,400.4 302.3,397.9C299.4,395.4 297.1,393.3 294.8,390.4C292.5,387.5 290.4,384.2 288.6,380.4C286.7,376.7 285,372.1 283.6,367.9C282.1,363.8 281.3,359.6 279.8,355.5C278.4,351.3 276.5,346.7 274.8,343C273.2,339.2 271.5,336.3 269.8,333C268.2,329.7 266.1,324.7 264.8,323C263.6,321.3 263.4,324.4 262.3,323C261.3,321.5 259.8,317.4 258.6,314.2C257.3,311.1 256.1,307.8 254.9,304.3C253.6,300.7 252.8,296.3 251.1,293C249.4,289.7 247.2,286.6 244.9,284.3C242.6,282 240.1,280.9 237.4,279.3C234.7,277.6 231.1,276.4 228.6,274.3C226.1,272.2 223.8,269.7 222.4,266.8C221,263.9 220.6,260.1 220.4,256.8C220.2,253.5 220.6,249.7 221.1,246.8C221.7,243.9 222.2,241.4 223.6,239.3C225.1,237.3 227.2,235.5 229.9,234.3C232.6,233.2 236.1,232.6 239.9,232.3C243.6,232.1 248.2,233.2 252.4,233.1C256.5,233 261.5,233.3 264.8,231.8C268.2,230.4 269.8,226.9 272.3,224.4C274.8,221.9 276.9,218.9 279.8,216.9C282.7,214.8 286.1,213.2 289.8,211.9C293.6,210.5 298.5,209.1 302.3,208.9C306,208.7 308.9,209.7 312.3,210.6C315.6,211.5 318.5,212.9 322.3,214.4C326,215.8 331.4,218.2 334.8,219.4C338.1,220.5 339.5,221.6 342.2,221.4C344.9,221.1 347.5,217.9 351,218.1C354.5,218.3 359.3,221.4 363.5,222.4C367.6,223.3 372.2,223.2 376,223.9C379.7,224.5 382.2,225.4 386,226.4C389.7,227.3 394.7,228.2 398.4,229.3C402.2,230.5 405.5,231.6 408.4,233.1C411.3,234.5 413.8,235.8 415.9,238.1C418,240.4 419.7,243.7 420.9,246.8C422.2,249.9 422.6,253.1 423.4,256.8C424.2,260.6 425.1,265.1 425.9,269.3C426.7,273.5 427.8,277.6 428.4,281.8C429,285.9 429.6,290.1 429.7,294.3C429.7,298.4 428.9,302 428.9,306.8C428.9,311.5 429.1,318.6 429.7,323C430.2,327.4 431.3,329.2 432.1,333C433,336.7 434.2,340.9 434.6,345.5C435.1,350 435.1,355 434.6,360.5C434.2,365.9 433.2,371.7 432.1,377.9C431.1,384.2 429.7,391.7 428.4,397.9C427.2,404.1 425.9,409.6 424.7,415.4C423.4,421.2 422,427.2 420.9,432.9C419.9,438.5 420.5,446.6 418.4,449.1C416.3,451.6 412.2,448.5 408.4,447.8C404.7,447.2 400.1,446.3 395.9,445.3C391.8,444.4 387.2,442.8 383.5,442.4C379.7,441.9 376.8,442.1 373.5,442.9C370.1,443.6 366.4,445.1 363.5,446.6C360.6,448.1 358.1,450.1 356,451.6C353.9,453 354.5,452.2 351,455.3C347.5,458.5 339.1,465.7 334.8,470.3C330.4,474.9 328.1,478.2 324.8,482.8C321.4,487.4 318.1,492.8 314.8,497.8C311.4,502.8 309.8,508.2 304.8,512.8C299.8,517.3 291.5,521.9 284.8,525.2C278.2,528.6 271.1,530.6 264.8,532.7C258.6,534.9 252.4,537 247.4,538.2C242.4,539.5 239.5,540.1 234.9,540.2C230.3,540.4 223.6,539.8 219.9,539C216.1,538.1 214.5,537.9 212.4,535.2C210.3,532.5 208.7,528.2 207.4,522.8C206.2,517.3 206.6,508.6 204.9,502.8C203.2,496.9 200.8,492.8 197.4,487.8C194.1,482.8 189.8,476.6 184.9,472.8C180.1,469.1 171,466.6 168.2,465.3L160,464.8Z" fill="#e6e6e7"/>
<path d="M160,529L168.2,529.7C169.5,530.4 173.6,532.4 176.2,534C178.8,535.5 181.6,537.1 183.7,539C185.8,540.8 187.6,543.2 188.7,545C189.7,546.8 189.3,547.1 189.9,550C190.6,552.9 191.8,557.9 192.4,562.5C193.1,567.1 193.8,572.5 193.7,577.5C193.6,582.5 192.5,587.5 191.9,592.4C191.4,597.4 190.6,602.4 190.4,607.4C190.3,612.4 190.4,617.8 191.2,622.4C191.9,627 193.1,630.9 194.9,634.9C196.8,638.8 199.5,642.6 202.4,646.1C205.3,649.7 209.5,652.8 212.4,656.1C215.3,659.4 218,662.6 219.9,666.1C221.8,669.6 223.2,673.4 223.6,677.3C224.1,681.3 223.6,686.1 222.4,689.8C221.1,693.6 219.1,697.1 216.1,699.8C213.2,702.5 208.9,704.4 204.9,706.1C201,707.7 196.6,708.8 192.4,709.8C188.3,710.8 184,711.5 179.9,712.3C175.9,713 170.2,714 168.2,714.3L160,714.8Z" fill="#e6e6e7"/>
<path d="M160,676.1L168.2,676.1C168.9,676.4 171.5,677 172.5,677.8C173.4,678.7 173.7,679.9 173.7,681.1C173.7,682.3 173.4,683.9 172.5,684.8C171.5,685.8 168.9,686.5 168.2,686.8L160,686.8Z" fill="#ffff00"/>
<path d="M247.4,607.4C248.2,601.6 246.5,602.9 249.9,597.4C253.2,592 251.5,593.9 257.3,591.2C263.2,588.5 261.1,588.6 267.3,589.5C273.6,590.3 271.1,589 276.1,593.7C281.1,598.4 279,596.2 282.3,603.7C285.6,611.2 284.4,608.3 286.1,616.2C287.7,624.1 287.7,620.7 287.3,627.4C286.9,634.1 288.1,632.4 284.8,636.1C281.5,639.9 283.1,638.2 277.3,638.6C271.5,639.1 274,639.5 267.3,637.4C260.7,635.3 263,637 257.3,632.4C251.7,627.8 253.7,629.5 250.4,623.7C247,617.8 248.4,620.3 247.4,614.9C246.4,609.5 246.5,613.3 247.4,607.4Z" fill="#e6e6e7"/>
<path d="M422.2,454.1C424.7,452.4 423,452.6 428.4,452.8C433.8,453.1 432.1,452.3 438.4,454.8C444.6,457.3 442.6,455.2 447.1,460.3C451.7,465.5 449.6,462 452.1,470.3C454.6,478.6 453.4,475.3 454.6,485.3C455.9,495.3 455.9,491.4 455.9,500.2C455.8,508.9 455.6,504.4 454.6,511.6C453.5,518.8 454.4,516.1 452.7,521.8C451,527.5 452.5,525.4 449.5,528.8C446.5,532.2 447.8,531.1 443.8,532C439.7,532.8 441.6,533 437.4,531.3C433.2,529.6 434.7,530.9 431,526.9C427.4,522.9 428.9,524.8 426.6,519.3C424.3,513.7 425.5,516.7 424.1,510.3C422.6,504 423.2,508.5 422.1,500.2C421.1,491.8 421.5,496.1 420.9,485.3C420.3,474.5 420.4,477 420.4,467.8C420.4,458.7 420.3,462.4 420.9,457.8C421.5,453.3 419.7,455.8 422.2,454.1Z" fill="#e6e6e7"/>
<path d="M482.9,562.2C482.9,566.5 483.2,564.7 482.1,568.6C481,572.5 481.7,571 479.7,573.9C477.6,576.9 478.7,575.9 476,577.5C473.4,579.1 474.6,578.8 471.7,578.8C468.9,578.8 470.1,579.1 467.5,577.5C464.8,575.9 465.9,576.9 463.8,573.9C461.8,571 462.5,572.5 461.4,568.6C460.3,564.7 460.6,566.5 460.6,562.2C460.6,558 460.3,559.8 461.4,555.9C462.5,552 461.8,553.5 463.8,550.6C465.9,547.6 464.8,548.6 467.5,547C470.1,545.4 468.9,545.7 471.7,545.7C474.6,545.7 473.4,545.4 476,547C478.7,548.6 477.6,547.6 479.7,550.6C481.7,553.5 481,552 482.1,555.9C483.2,559.8 482.9,558 482.9,562.2Z" fill="#e6e6e7"/>
<path d="M389.7,156.9L389.7,167.7C390.3,168.6 391.6,171.6 393.4,173.2C395.3,174.7 398,176.2 400.9,176.9C403.9,177.7 407.8,178.2 410.9,177.7C414,177.2 417.4,175.6 419.7,173.9C422,172.3 423.8,168.7 424.7,167.7L424.7,156.9Z" fill="#e6e6e7"/>
<path d="M445.9,156.9C445.9,161.8 444.2,161 445.9,166.4C447.5,171.8 447.1,168.4 450.9,173.2C454.6,177.9 452.1,176.1 457.1,180.7C462.1,185.2 459.6,182.7 465.9,186.9C472.1,191.1 470,188.6 475.8,193.1C481.7,197.7 479.6,194.8 483.3,200.6C487.1,206.5 485,203.5 487.1,210.6C489.2,217.7 487.5,214.8 489.6,221.9C491.7,228.9 490.8,225.2 493.3,231.8C495.8,238.5 495,235.2 497.1,241.8C499.1,248.5 497.5,246.4 499.6,251.8C501.6,257.2 500.6,257.2 503.3,258.1C506.1,258.9 505.7,258.9 507.8,254.3C509.9,249.7 508.6,251.8 509.6,244.3C510.6,236.8 510,241 510.8,231.8C511.6,222.7 511.2,226.9 512,216.9C512.9,206.9 512.5,211.9 513.3,201.9C514.1,191.9 514.1,196.9 514.5,186.9C515,176.9 515.4,180.2 514.5,171.9C513.7,163.6 515,167.3 512,161.9C509.1,156.5 511.2,158.8 505.8,155.7C500.4,152.6 503.3,154.1 495.8,152.7C488.3,151.3 491.2,151.9 483.3,151.4C475.4,151 480.4,151.3 472.1,151.4C463.8,151.6 467.1,151.8 458.4,151.9C449.6,152.1 450,150.3 445.9,151.9C441.7,153.6 445.9,152.1 445.9,156.9Z" fill="#e6e6e7"/>
<path d="M351,379.9C345.6,383 347.7,380.5 342.2,384.2C336.8,387.8 337.7,387 334.8,390.9C331.8,394.8 332.5,391.9 333.5,395.9C334.5,399.9 334,399.1 337.7,402.9C341.5,406.7 340.3,404.9 344.7,407.4C349.2,409.9 346,407.7 351,410.4C356,413.1 353.9,413.3 359.7,415.4C365.6,417.5 363.5,418.3 368.5,416.6C373.5,415 371.8,415.8 374.7,410.4C377.6,405 376.8,407.5 377.2,400.4C377.6,393.3 377.2,396.2 376,389.2C374.7,382.1 376.4,384.2 373.5,379.2C370.6,374.2 372.2,375.6 367.2,374.2C362.2,372.8 363.9,373 358.5,374.9C353.1,376.8 356.4,376.8 351,379.9Z" fill="#a5cd58"/>
<path d="M287.8,324.1C285.9,316.1 286.5,319.9 285.3,312.7C284,305.5 284,308.4 284,302.5C284,296.6 283.1,300.8 285.3,294.9C287.4,288.9 286.3,291.9 290.3,284.7C294.4,277.5 292.7,280.9 297.3,273.2C302,265.6 299.9,263.1 304.3,261.8C308.8,260.5 306.5,263.1 310.7,269.4C314.9,275.8 312.8,273.7 317.1,280.9C321.3,288.1 319.2,284.9 323.4,291C327.7,297.2 325.5,295.3 329.8,299.3C334,303.3 331.9,302.7 336.1,303.1C340.4,303.6 339.1,303.8 342.5,300.6C345.9,297.4 343.8,299.3 346.3,293.6C348.9,287.9 347.2,290.6 350.1,283.4C353.1,276.2 351.4,279.2 355.2,272C359,264.8 356.9,267.7 361.6,261.8C366.2,255.9 363.7,258.4 369.2,254.2C374.7,249.9 372.2,251.6 378.1,249.1C384,246.5 381.1,247.4 387,246.5C392.9,245.7 390.4,245.7 395.9,246.5C401.4,247.4 399.1,246.3 403.5,249.1C408,251.8 406.4,250.1 409.3,254.8C412.2,259.5 411.1,257.3 412.2,263.1C413.3,268.8 413.2,265.2 412.4,272C411.7,278.8 412,275.8 409.9,283.4C407.8,291 408.6,287.7 406.1,294.9C403.5,302.1 404.8,298.7 402.3,305C399.7,311.4 401,308 398.5,313.9C395.9,319.9 397.6,316.9 394.6,322.8C391.7,328.8 393.4,326.2 389.6,331.7C385.7,337.3 387.7,336.5 383.2,339.4C378.7,342.3 382.5,338.4 376,340.5C369.4,342.5 371.8,342.1 363.5,345.5C355.2,348.8 356.4,346.3 351,350.5C345.6,354.6 351.8,353 347.2,358C342.7,363 343.9,361.7 337.2,365.4C330.6,369.2 333.9,368.8 327.3,369.2C320.6,369.6 323.9,370.4 317.3,366.7C310.6,363 313.9,365 307.3,358C300.6,350.9 302.7,353.8 297.3,345.5C291.9,337.1 293.2,335.9 291.1,333C289,330.1 292.1,339.8 291,336.8C289.9,333.9 289.7,332.2 287.8,324.1Z" fill="#ffff00"/>
<path d="M363.5,305C363.3,301.2 362.4,303.3 362.8,297.4C363.3,291.5 363.1,294 364.8,287.2C366.4,280.5 365.2,283.8 367.9,277.1C370.7,270.3 369.2,272.8 373,266.9C376.8,260.9 374.7,263.1 379.4,259.3C384,255.4 381.5,256.9 387,255.4C392.5,254 390.8,254.4 395.9,254.8C401,255.2 398.9,254.4 402.3,256.7C405.7,259 404.6,257.6 406.1,261.8C407.6,266 407.1,263.9 406.7,269.4C406.3,274.9 406.7,272.4 404.8,278.3C402.9,284.3 404,281.3 401,287.2C398,293.2 399.7,290.2 395.9,296.1C392.1,302.1 393.8,300 389.6,305C385.3,310.1 387.4,307.8 383.2,311.4C379,315 381.1,313.9 376.8,315.9C372.6,317.8 374.3,317.8 370.5,317.1C366.7,316.5 367.7,316.7 365.4,313.9C363.1,311.2 364.1,311.8 363.5,308.9C362.8,305.9 363.7,308.9 363.5,305Z" fill="#fdb928"/>
<path d="M393.8,278.1C392.2,280 393,279.2 391.2,280.7C389.4,282.2 390.2,281.7 388.3,282.5C386.5,283.3 387.2,283.1 385.7,283.1C384.1,283 384.7,283.2 383.6,282.4C382.5,281.5 382.9,282.1 382.4,280.5C382,279 382.1,279.8 382.4,277.8C382.7,275.9 382.4,276.8 383.4,274.6C384.4,272.5 383.8,273.4 385.3,271.5C386.9,269.5 386.1,270.3 387.9,268.8C389.8,267.3 389,267.8 390.8,267.1C392.6,266.3 391.9,266.4 393.4,266.5C395,266.5 394.4,266.3 395.5,267.2C396.6,268 396.3,267.5 396.7,269C397.1,270.5 397.1,269.7 396.7,271.7C396.4,273.7 396.7,272.8 395.7,274.9C394.7,277 395.3,276.1 393.8,278.1Z" fill="#ff0000"/>
<path d="M299.8,315.5C303.1,311.3 301.5,312.6 307.3,310.5C313.1,308.4 310.6,308.4 317.3,309.2C323.9,310.1 320.6,309.7 327.3,313C333.9,316.3 331.4,315.9 337.2,319.2C343.1,322.6 341.4,318.4 344.7,323C348.1,327.6 346.8,326.3 347.2,333C347.7,339.6 348.5,336.7 346,343C343.5,349.2 344.3,347.1 339.7,351.7C335.2,356.3 338.1,354.6 332.3,356.7C326.4,358.8 328.9,359.6 322.3,358C315.6,356.3 318.1,356.7 312.3,351.7C306.5,346.7 308.9,349.2 304.8,343C300.6,336.7 302.3,339.6 299.8,333C297.3,326.3 297.3,328.8 297.3,323C297.3,317.2 296.5,319.7 299.8,315.5Z" fill="#fdb928"/>
<path d="M302.3,335.5C301.9,329.7 301.5,331.7 304.8,328C308.1,324.2 306.9,325.5 312.3,324.2C317.7,323 315.6,322.6 321,324.2C326.4,325.9 324.8,325.1 328.5,329.2C332.3,333.4 331.8,331.3 332.3,336.7C332.7,342.1 333.1,340.9 329.8,345.5C326.4,350 327.7,348.6 322.3,350.5C316.9,352.3 318.9,352.6 313.5,351C308.1,349.3 309.8,350.6 306,345.5C302.3,340.3 302.7,341.3 302.3,335.5Z" fill="#ff0000"/>
<path d="M203.9,348.7C203.9,350.8 204.1,349.9 203.4,351.8C202.7,353.7 203.1,352.9 201.9,354.4C200.6,355.8 201.2,355.3 199.6,356.1C198,356.9 198.7,356.7 196.9,356.7C195.1,356.7 195.9,356.9 194.2,356.1C192.6,355.3 193.2,355.8 192,354.4C190.7,352.9 191.1,353.7 190.5,351.8C189.8,349.9 189.9,350.8 189.9,348.7C189.9,346.7 189.8,347.5 190.5,345.7C191.1,343.8 190.7,344.5 192,343.1C193.2,341.6 192.6,342.1 194.2,341.3C195.9,340.6 195.1,340.7 196.9,340.7C198.7,340.7 198,340.6 199.6,341.3C201.2,342.1 200.6,341.6 201.9,343.1C203.1,344.5 202.7,343.8 203.4,345.7C204.1,347.5 203.9,346.7 203.9,348.7Z" fill="#ffff00"/>
<path d="M160,386.9L168.2,387.4C169.3,388.1 172.4,389.5 175,391.7C177.5,393.8 180.8,396.9 183.7,400.4C186.6,403.9 189.9,408.9 192.4,412.9C194.9,416.8 197.3,420.8 198.7,424.1C200,427.5 200.8,430.2 200.4,432.9C200,435.6 198.3,438.5 196.2,440.4C194,442.2 190.6,443.3 187.4,444.1C184.3,444.9 180.7,445.1 177.4,445.3C174.2,445.6 169.7,445.3 168.2,445.3L160,445.8Z" fill="#ffff00"/>
<path d="M160,408.6L168.2,409.1C169.1,409.6 171.7,410 173.7,411.6C175.7,413.3 178.5,416.6 179.9,419.1C181.4,421.6 182.5,424.3 182.4,426.6C182.4,428.9 180.9,431.4 179.4,432.9C178,434.3 175.6,434.7 173.7,435.4C171.8,436 169.1,436.4 168.2,436.6L160,437.1Z" fill="#fdb928"/>
<path d="M377.2,203.1C379,199.4 378,199.2 383.5,195.6C388.9,192.1 386,193.6 393.4,192.4C400.9,191.1 397.6,191.2 405.9,191.9C414.3,192.6 410.9,191.9 418.4,194.4C425.9,196.9 422.6,196.1 428.4,199.4C434.2,202.7 430.1,201.9 435.9,204.4C441.7,206.9 438.4,205.6 445.9,206.9C453.4,208.1 450.9,206.5 458.4,208.1C465.9,209.8 462.9,208.1 468.4,211.9C473.8,215.6 471.7,213.5 474.6,219.4C477.5,225.2 476,221.9 477.1,229.3C478.2,236.8 478.3,232.7 477.8,241.8C477.4,251 477.3,246.8 475.8,256.8C474.3,266.8 475.4,261.8 473.3,271.8C471.3,281.8 472.5,277.6 469.6,286.8C466.7,295.9 468.4,291.8 464.6,299.3C460.9,306.8 462.9,304.3 458.4,309.2C453.8,314.2 455.9,313.4 450.9,314.2C445.9,315.1 447.5,315.1 443.4,311.7C439.2,308.4 440.9,310.9 438.4,304.3C435.9,297.6 437.6,300.9 435.9,291.8C434.2,282.6 435.1,286.8 433.4,276.8C431.7,266.8 432.6,271.8 430.9,261.8C429.2,251.8 430.1,255.1 428.4,246.8C426.7,238.5 428.8,242.7 425.9,236.8C423,231 424.7,233.5 419.7,229.3C414.7,225.2 417.2,227.3 410.9,224.4C404.7,221.4 407.6,223.1 400.9,220.6C394.3,218.1 397.2,219.8 391,216.9C384.7,213.9 386.5,215.2 382.2,211.9C377.9,208.5 379.6,209.8 378,206.9C376.3,204 375.4,206.9 377.2,203.1Z" fill="#00bfff"/>
<path d="M160,474.1L168.2,474.1C168.9,474.7 171.2,475.9 172.5,477.8C173.7,479.7 175.1,482.8 175.4,485.3C175.8,487.8 175.2,490.7 174.5,492.8C173.7,494.9 172.2,496.7 171.2,497.8C170.2,498.8 168.7,498.8 168.2,499L160,499Z" fill="#00bfff"/>
<path d="M257.3,156.9L257.3,167.7C257.6,168.8 257.3,172.3 258.6,174.4C259.8,176.6 261.7,179.2 264.8,180.7C268,182.1 272.7,182.9 277.3,183.2C281.9,183.4 287.7,182.5 292.3,181.9C296.9,181.3 301.9,180.9 304.8,179.4C307.7,178 308.9,175.1 309.8,173.2C310.6,171.2 309.8,168.6 309.8,167.7L309.8,156.9Z" fill="#0505e6" stroke="none"/>
<path d="M160,199.9L168.2,199.4C170.2,198.9 175.9,197.3 179.9,196.4C184,195.5 189.6,193.4 192.4,193.9C195.3,194.4 196,196.4 196.9,199.4C197.8,202.4 197.8,207.7 197.9,211.9C198,216 197.3,220.2 197.4,224.4C197.5,228.5 198.2,232.7 198.7,236.8C199.2,241 200.3,245.6 200.4,249.3C200.5,253.1 200.5,256.6 199.4,259.3C198.3,262 196.3,264.5 193.7,265.6C191.1,266.6 187,266.2 183.7,265.6C180.4,264.9 176.3,262.8 173.7,261.8C171.1,260.8 169.1,259.7 168.2,259.3L160,258.8Z" fill="#0505e6" stroke="none"/>
<path d="M222.9,314.2C221.2,308 221.3,309.7 222.4,304.3C223.5,298.8 222.4,300.7 226.1,298C229.9,295.3 228.6,295.4 233.6,296.3C238.6,297.1 237,296.2 241.1,300.5C245.3,304.8 243,303 246.1,309.2C249.2,315.5 245.8,313 250.4,319.2C254.9,325.5 255,321.7 259.8,328C264.7,334.2 261.9,331.3 264.8,338C267.8,344.6 267.1,340.5 268.6,348C270.1,355.5 268.9,352.1 269.3,360.5C269.7,368.8 269.7,365.4 269.8,372.9C270,380.4 269,376.3 269.8,382.9C270.7,389.6 269.4,386.3 272.3,392.9C275.2,399.6 274,396.2 278.6,402.9C283.1,409.6 281.7,406.2 286.1,412.9C290.5,419.5 291.8,417.9 291.8,422.9C291.8,427.9 292.1,425.4 286.1,427.9C280,430.4 281.5,427.5 273.6,430.4C265.7,433.3 268.6,430.8 262.3,436.6C256.1,442.4 259.4,440.4 254.9,447.8C250.3,455.3 252.8,452.4 248.6,459.1C244.4,465.7 246.5,463.7 242.4,467.8C238.2,472 239.6,472.4 236.1,471.6C232.6,470.7 233.5,471.6 231.9,465.3C230.2,459.1 231.1,461.2 231.1,452.8C231.1,444.5 230.6,447.8 231.9,440.4C233.1,432.9 231.4,435.8 234.9,430.4C238.4,425 236.5,428.3 242.4,424.1C248.2,420 246.5,423.3 252.4,417.9C258.2,412.5 256.1,415.4 259.8,407.9C263.6,400.4 262.1,403.7 263.6,395.4C265.1,387.1 264.8,391.2 264.3,382.9C263.9,374.6 264.7,377.9 262.3,370.4C260,363 262.3,366.3 257.3,360.5C252.4,354.6 254,358.8 247.4,353C240.7,347.1 242.8,349.6 237.4,343C232,336.3 234.5,339.6 231.1,333C227.8,326.3 230.1,329.2 227.4,323C224.6,316.8 224.6,320.5 222.9,314.2Z" fill="#0505e6" stroke="none"/>
<path d="M415.9,209.4C415.9,211.5 416.1,210.6 415.2,212.5C414.3,214.5 414.9,213.7 413.1,215.2C411.4,216.7 412.3,216.2 410.1,217C407.8,217.8 408.9,217.6 406.4,217.6C404,217.6 405,217.8 402.8,217C400.6,216.2 401.4,216.7 399.7,215.2C398,213.7 398.6,214.5 397.7,212.5C396.7,210.6 396.9,211.5 396.9,209.4C396.9,207.3 396.7,208.2 397.7,206.2C398.6,204.3 398,205 399.7,203.5C401.4,202.1 400.6,202.6 402.8,201.8C405,201 404,201.1 406.4,201.1C408.9,201.1 407.8,201 410.1,201.8C412.3,202.6 411.4,202.1 413.1,203.5C414.9,205 414.3,204.3 415.2,206.2C416.1,208.2 415.9,207.3 415.9,209.4Z" fill="#0505e6" stroke="none"/>
<path d="M435.9,246.8C436.3,239.3 435.1,243.1 437.1,236.8C439.2,230.6 437.6,232.3 442.1,228.1C446.7,223.9 445,224.9 450.9,224.4C456.7,223.8 454.8,223 459.6,226.4C464.4,229.7 462.9,227.5 465.4,234.3C467.9,241.2 466.9,237.7 467.1,246.8C467.3,256 467.5,252.7 465.9,261.8C464.2,271 465.4,267.2 462.1,274.3C458.8,281.4 460,278.9 455.9,283C451.7,287.2 453.8,287.2 449.6,286.8C445.5,286.4 447.1,286.8 443.4,281.8C439.6,276.8 440.9,279.3 438.4,271.8C435.9,264.3 436.7,267.6 435.9,259.3C435.1,251 435.5,254.3 435.9,246.8Z" fill="#0505e6" stroke="none"/>
<path d="M470.9,119.5L472.1,124C473.1,124.4 476.1,126.1 478.3,126.5C480.6,126.8 484,126.4 485.8,126C487.7,125.6 489,124.3 489.6,124L490.8,119.5Z" fill="#0505e6" stroke="none"/>
<path d="M550.8,198.1L539.5,199.4C539,200.6 537,203.5 536.3,206.9C535.6,210.2 535.4,214.4 535.3,219.4C535.2,224.4 535.5,231.4 535.8,236.8C536.1,242.2 536.4,247.7 537,251.8C537.6,256 539.1,260.1 539.5,261.8L550.8,263.1Z" fill="#0505e6" stroke="none"/>
<path d="M550.8,351L539.5,351.7C538.1,352.1 533.9,352.8 530.8,354.2C527.7,355.7 524.1,358 520.8,360.5C517.5,363 514.1,366.5 510.8,369.2C507.5,371.9 504.6,374.6 500.8,376.7C497.1,378.8 492.5,380.4 488.3,381.7C484.2,382.9 480,383.1 475.8,384.2C471.7,385.2 467.1,386 463.4,387.9C459.6,389.8 456.3,392.3 453.4,395.4C450.5,398.5 447.8,402.7 445.9,406.6C444,410.6 442.6,415.6 442.1,419.1C441.7,422.7 441.9,425.8 443.4,427.9C444.8,429.9 448,431.2 450.9,431.6C453.8,432 457.9,431.4 460.9,430.4C463.8,429.3 465.9,426.6 468.4,425.4C470.9,424.1 473.8,422.5 475.8,422.9C477.9,423.3 480,425 480.8,427.9C481.7,430.8 481.5,435.8 480.8,440.4C480.2,444.9 478.3,450.3 477.1,455.3C475.8,460.3 474.2,465.3 473.3,470.3C472.5,475.3 472.3,479.9 472.1,485.3C471.9,490.7 471.9,497.8 472.1,502.8C472.3,507.8 472.3,512.6 473.3,515.3C474.4,518 476.1,519 478.3,519C480.6,519 484.2,517.5 487.1,515.3C490,513 493.1,508.6 495.8,505.3C498.5,501.9 500.4,497.6 503.3,495.3C506.2,493 510.2,491.3 513.3,491.5C516.4,491.7 519.8,493.8 522,496.5C524.2,499.2 525.9,503.4 526.5,507.8C527.2,512.1 526.5,518.2 525.8,522.8C525,527.3 524,532.6 522,535.2C520,537.8 516.2,536.8 513.7,538.3C511.3,539.9 509.2,542.6 507.4,544.7C505.6,546.8 504,548.7 502.9,551C501.8,553.4 501.1,555.9 501,558.7C500.9,561.4 502.1,562.7 502.1,567.5C502,572.3 501.4,580.8 500.8,587.5C500.2,594.1 498.9,601.2 498.3,607.4C497.7,613.7 497.3,619.5 497.1,624.9C496.9,630.3 497.5,635.1 497.1,639.9C496.7,644.7 496,650.3 494.6,653.6C493.1,656.9 491,657.6 488.3,659.9C485.6,662.2 481.5,664.9 478.3,667.4C475.2,669.9 471.7,671.9 469.6,674.8C467.5,677.8 467.1,681.3 465.9,684.8C464.6,688.4 463.8,692.7 462.1,696.1C460.4,699.4 458.6,702.9 455.9,704.8C453.2,706.8 449.2,707.8 445.9,707.8C442.6,707.8 438.8,706.6 435.9,704.8C433,703.1 430.2,700.2 428.4,697.3C426.7,694.4 425.8,690.7 425.4,687.3C425,684 425.2,680.5 425.9,677.3C426.6,674.2 427.8,671.1 429.7,668.6C431.5,666.1 434.4,664.2 437.1,662.4C439.8,660.5 443.4,659.4 445.9,657.4C448.4,655.3 450.8,652.8 452.1,649.9C453.5,647 454.1,643.6 453.9,639.9C453.7,636.1 452.4,631.6 450.9,627.4C449.3,623.2 446.5,619.1 444.6,614.9C442.8,610.8 440.5,606.6 439.6,602.4C438.8,598.3 439.1,594.1 439.6,590C440.2,585.8 442.3,581.6 442.9,577.5C443.5,573.3 443.7,568.3 443.4,565C443.1,561.7 442.3,559.2 440.9,557.5C439.4,555.7 436.7,554.5 434.6,554.5C432.6,554.5 429.9,555.7 428.4,557.5C426.9,559.2 426.1,561.7 425.9,565C425.7,568.3 426.5,573.3 427.2,577.5C427.8,581.6 429,585.8 429.7,590C430.3,594.1 431.3,598.3 430.9,602.4C430.5,606.6 428.8,610.8 427.2,614.9C425.5,619.1 423,623.2 420.9,627.4C418.8,631.6 417,636.1 414.7,639.9C412.4,643.6 409.7,647 407.2,649.9C404.7,652.8 401.6,654.5 399.7,657.4C397.8,660.3 396.8,663.6 395.9,667.4C395.1,671.1 395.1,675.7 394.7,679.8C394.3,684 394.3,688.6 393.4,692.3C392.6,696.1 391.8,699.2 389.7,702.3C387.6,705.4 384.1,708.3 381,711C377.8,713.8 373.9,716.1 371,718.5C368.1,721 364.7,724.4 363.5,725.5L362.2,737.3L550.8,737.3Z" fill="#0505e6" stroke="none"/>
<path d="M351,486.5C347.2,492.4 351,487.4 347.2,492.8C343.5,498.2 344.7,495.3 339.7,502.8C334.8,510.3 335.9,509 332.3,515.3C328.6,521.5 329.7,517 328.8,521.6C327.8,526.3 328.4,524.8 329.4,529.3C330.5,533.7 329.4,532.2 332,535C334.5,537.7 333.2,537.3 337.1,537.5C340.9,537.7 338.8,537.7 343.4,535.6C348.1,533.5 345.1,533.9 351,531.2C357,528.4 354.4,529.3 361.2,527.3C368,525.4 365.5,526.3 371.4,525.4C377.3,524.6 374.4,524.2 379,524.8C383.7,525.4 381.1,525.6 385.4,527.3C389.6,529 387.1,529 391.7,529.9C396.4,530.7 394.9,531.4 399.4,529.9C403.8,528.4 402.1,529.9 405.1,525.4C408.1,521 407,522.5 408.3,516.5C409.6,510.6 409,512.2 408.9,507.6C408.8,503 408.8,509.4 407.9,502.8C407.1,496.2 408.3,496.5 406.4,487.8C404.5,479.1 406.5,482.4 402.2,476.6C397.9,470.7 400.5,473.2 393.4,470.3C386.4,467.4 389.3,467.8 381,467.8C372.6,467.8 376,467.8 368.5,470.3C361,472.8 364.3,469.9 358.5,475.3C352.7,480.7 354.7,480.7 351,486.5Z" fill="#0505e6" stroke="none"/>
<path d="M284.8,560C284.8,562.1 285.1,561.2 283.9,563.1C282.7,565.1 283.5,564.3 281.3,565.8C279.1,567.3 280.2,566.8 277.4,567.6C274.6,568.4 275.9,568.2 272.8,568.2C269.8,568.2 271.1,568.4 268.2,567.6C265.4,566.8 266.5,567.3 264.4,565.8C262.2,564.3 262.9,565.1 261.8,563.1C260.6,561.2 260.8,562.1 260.8,560C260.8,557.9 260.6,558.8 261.8,556.8C262.9,554.9 262.2,555.6 264.4,554.2C266.5,552.7 265.4,553.2 268.2,552.4C271.1,551.6 269.8,551.7 272.8,551.7C275.9,551.7 274.6,551.6 277.4,552.4C280.2,553.2 279.1,552.7 281.3,554.2C283.5,555.6 282.7,554.9 283.9,556.8C285.1,558.8 284.8,557.9 284.8,560Z" fill="#0505e6" stroke="none"/>
<path d="M294.8,572.5C296.5,569 294.8,570.7 299.8,569.5C304.8,568.2 304,567.7 309.8,568.7C315.6,569.7 313.5,567.9 317.3,572.5C321,577 319.5,575 321,582.5C322.5,590 322.2,586.6 321.8,594.9C321.4,603.3 322.5,601.6 319.8,607.4C317,613.3 318.1,611.6 313.5,612.4C308.9,613.3 310.6,613.3 306,609.9C301.5,606.6 303.1,609.1 299.8,602.4C296.5,595.8 297.7,597.4 296,590C294.4,582.5 295.2,585.8 294.8,580C294.4,574.1 293.1,576 294.8,572.5Z" fill="#0505e6" stroke="none"/>
<path d="M351,622.4C347.2,622.8 346,622 339.7,623.7C333.5,625.3 335.6,622.8 332.3,627.4C328.9,632 330.2,629.9 329.8,637.4C329.3,644.9 329.3,643.2 331,649.9C332.7,656.5 331,654 334.8,657.4C338.5,660.7 336.8,659.4 342.2,659.9C347.7,660.3 344.8,660.3 351,658.6C357.2,656.9 354.3,656.9 361,654.9C367.6,652.8 364.7,654.9 371,652.4C377.2,649.9 375.7,651.5 379.7,647.4C383.7,643.2 383,645.3 383,639.9C383,634.5 383.7,636.1 379.7,631.1C375.7,626.2 377.2,628 371,624.9C364.7,621.8 367.6,622.7 361,621.9C354.3,621.1 354.3,622.2 351,622.4C347.7,622.6 354.7,622 351,622.4Z" fill="#0505e6" stroke="none"/>
<path d="M197.4,727.8L202.4,727.8C204.9,727.3 212.8,726.1 217.4,724.8C222,723.4 226.1,721.9 229.9,719.8C233.6,717.7 237.2,715.2 239.9,712.3C242.6,709.4 244,705.6 246.1,702.3C248.2,699 250.1,695.2 252.4,692.3C254.6,689.4 256.9,686.6 259.8,684.8C262.8,683.1 266.1,682.3 269.8,681.8C273.6,681.4 278.2,682.5 282.3,682.3C286.5,682.2 291.1,681.1 294.8,681.1C298.5,681.1 302.5,681.1 304.8,682.3C307.1,683.6 308.5,686.1 308.5,688.6C308.5,691.1 306.7,694.6 304.8,697.3C302.9,700 299.8,701.9 297.3,704.8C294.8,707.7 291.7,711.5 289.8,714.8C287.9,718.1 287.1,721 286.1,724.8C285,728.5 284.4,733.1 283.6,737.3C282.7,741.4 281.9,745 281.1,749.8C280.2,754.5 279,763.3 278.6,766L277.8,774.7L197.4,774.7Z" fill="#0505e6" stroke="none"/>
<path d="M168.2,219.6C170.2,220.4 176.5,222.5 179.9,224.4C183.4,226.2 186.7,227.9 188.7,230.6C190.7,233.3 191.5,237.3 191.9,240.6C192.3,243.9 192.1,247.9 191.2,250.6C190.2,253.3 188.5,255.3 186.2,256.8C183.9,258.4 180.4,259.1 177.4,259.8C174.5,260.5 169.7,260.6 168.2,260.8" fill="none" stroke-width="1.3" stroke="#00009c"/>
<path d="M461.4,254.8C461.4,261.2 461.6,258.5 460.6,264.4C459.5,270.3 460.2,268 458.3,272.5C456.4,277 457.4,275.4 454.9,277.9C452.4,280.3 453.6,279.8 450.9,279.8C448.2,279.8 449.3,280.3 446.9,277.9C444.4,275.4 445.4,277 443.5,272.5C441.6,268 442.2,270.3 441.2,264.4C440.2,258.5 440.4,261.2 440.4,254.8C440.4,248.4 440.2,251.1 441.2,245.3C442.2,239.4 441.6,241.7 443.5,237.2C445.4,232.7 444.4,234.2 446.9,231.7C449.3,229.3 448.2,229.8 450.9,229.8C453.6,229.8 452.4,229.3 454.9,231.7C457.4,234.2 456.4,232.7 458.3,237.2C460.2,241.7 459.5,239.4 460.6,245.3C461.6,251.1 461.4,248.4 461.4,254.8Z" fill="none" stroke-width="1.3" stroke="#00009c"/>
<path d="M456.4,256.8C456.4,260.5 456.5,258.9 455.9,262.4C455.3,265.8 455.7,264.4 454.6,267.1C453.5,269.7 454.1,268.8 452.7,270.2C451.3,271.6 451.9,271.3 450.4,271.3C448.8,271.3 449.5,271.6 448.1,270.2C446.7,268.8 447.2,269.7 446.1,267.1C445.1,264.4 445.4,265.8 444.8,262.4C444.3,258.9 444.4,260.5 444.4,256.8C444.4,253.1 444.3,254.7 444.8,251.3C445.4,247.9 445.1,249.2 446.1,246.6C447.2,244 446.7,244.8 448.1,243.4C449.5,242 448.8,242.3 450.4,242.3C451.9,242.3 451.3,242 452.7,243.4C454.1,244.8 453.5,244 454.6,246.6C455.7,249.2 455.3,247.9 455.9,251.3C456.5,254.7 456.4,253.1 456.4,256.8Z" fill="none" stroke-width="1.3" stroke="#00009c"/>
<path d="M233.6,323C234.3,324.9 235.5,330.7 237.4,334.2C239.2,337.8 242.2,341.3 244.9,344.2C247.6,347.1 250.9,349.4 253.6,351.7C256.3,354 259.1,357.7 261.1,358C263,358.2 264.9,355.5 265.3,353C265.8,350.5 264.7,346.3 263.6,343C262.5,339.6 260.1,336.3 258.6,333C257.1,329.7 255.1,324.7 254.4,323" fill="none" stroke-width="1.3" stroke="#00009c"/>
<path d="M250.2,445.7C249.1,448.7 249.7,447.5 248,450C246.4,452.6 247.2,451.7 245.2,453.3C243.3,455 244.1,454.5 242.2,455.1C240.2,455.7 241,455.7 239.3,455.1C237.7,454.5 238.3,455 237.2,453.3C236,451.6 236.4,452.5 235.9,450C235.5,447.4 235.5,448.6 235.9,445.6C236.3,442.6 236,444 237,441C238.1,438 237.5,439.2 239.2,436.7C240.8,434.1 240,435 242,433.4C243.9,431.7 243.1,432.2 245,431.6C247,431 246.2,431 247.9,431.6C249.6,432.2 248.9,431.7 250.1,433.4C251.2,435.1 250.9,434.2 251.3,436.7C251.7,439.3 251.7,438.1 251.3,441.1C251,444.1 251.3,442.7 250.2,445.7Z" fill="none" stroke-width="1.3" stroke="#00009c"/>
<path d="M499,476.6C497.4,480 498.2,478.6 496,481.3C493.8,484.1 494.8,483.1 492.3,484.8C489.7,486.5 490.8,486 488.3,486.4C485.8,486.8 486.8,486.9 484.7,485.9C482.6,485 483.4,485.7 482.1,483.5C480.7,481.3 481.1,482.5 480.7,479.4C480.4,476.4 480.3,477.8 481,474.3C481.6,470.9 481.1,472.4 482.7,469C484.2,465.7 483.4,467 485.6,464.3C487.9,461.6 486.8,462.5 489.4,460.8C492,459.2 490.8,459.6 493.4,459.2C495.9,458.8 494.9,458.7 496.9,459.7C499,460.7 498.3,460 499.6,462.1C500.9,464.3 500.5,463.2 500.9,466.2C501.3,469.3 501.3,467.8 500.7,471.3C500,474.8 500.5,473.3 499,476.6Z" fill="none" stroke-width="1.3" stroke="#00009c"/>
<path d="M266.4,726.3C264.5,729.8 265.4,728.4 263.2,731.4C261,734.3 262,733.2 259.7,735.2C257.4,737.1 258.4,736.6 256.4,737.2C254.4,737.9 255.2,737.9 253.8,737.2C252.5,736.5 252.9,737.1 252.4,735.1C251.8,733.1 251.9,734.2 252.2,731.2C252.6,728.2 252.2,729.7 253.4,726.2C254.6,722.7 253.9,724.2 255.8,720.7C257.7,717.2 256.8,718.7 259,715.7C261.2,712.8 260.2,713.8 262.5,711.9C264.8,709.9 263.8,710.5 265.8,709.8C267.7,709.2 267,709.1 268.4,709.9C269.7,710.6 269.3,710 269.8,712C270.4,714 270.3,712.9 270,715.9C269.6,718.8 270,717.4 268.8,720.9C267.6,724.4 268.2,722.9 266.4,726.3Z" fill="none" stroke-width="1.3" stroke="#00009c"/>
<path d="M224.9,742C225.3,743.2 225.3,742.7 225,744C224.7,745.4 225,744.8 223.9,746.1C222.9,747.5 223.5,746.9 221.8,748C220.2,749.1 221,748.8 219.1,749.4C217.2,750.1 218,750 216.1,750.1C214.2,750.3 215,750.4 213.3,750C211.6,749.7 212.2,749.9 211.1,749.1C210,748.2 210.3,748.7 209.9,747.5C209.5,746.3 209.5,746.9 209.8,745.5C210.1,744.1 209.8,744.7 210.9,743.4C211.9,742 211.3,742.6 212.9,741.5C214.5,740.4 213.8,740.8 215.7,740.1C217.6,739.4 216.8,739.6 218.7,739.4C220.6,739.2 219.8,739.2 221.5,739.5C223.2,739.9 222.5,739.6 223.7,740.4C224.8,741.3 224.5,740.8 224.9,742Z" fill="none" stroke-width="1.3" stroke="#00009c"/>
<path d="M347.2,642.4C347.2,643.5 347.3,643 346.9,644.1C346.4,645.2 346.7,644.8 345.8,645.6C344.9,646.4 345.3,646.1 344.2,646.5C343,647 343.5,646.9 342.2,646.9C341,646.9 341.5,647 340.3,646.5C339.2,646.1 339.6,646.4 338.7,645.6C337.8,644.8 338.1,645.2 337.6,644.1C337.1,643 337.2,643.5 337.2,642.4C337.2,641.2 337.1,641.7 337.6,640.7C338.1,639.6 337.8,640 338.7,639.2C339.6,638.4 339.2,638.7 340.3,638.2C341.5,637.8 341,637.9 342.2,637.9C343.5,637.9 343,637.8 344.2,638.2C345.3,638.7 344.9,638.4 345.8,639.2C346.7,640 346.4,639.6 346.9,640.7C347.3,641.7 347.2,641.2 347.2,642.4Z" fill="none" stroke-width="1.3" stroke="#00009c"/>
<path d="M503.8,550C503.8,553.3 503.3,562.9 503.8,570C504.3,577 505.5,585.8 507.1,592.4C508.6,599.1 510.6,605.7 513.3,609.9C516,614.2 520.2,617.3 523.3,617.9C526.4,618.5 529.6,616.7 532,613.7C534.4,610.7 536.5,605.6 537.8,599.9C539,594.3 539.2,583.3 539.5,580" fill="none" stroke-width="1.3" stroke="#00009c"/>
</g>
<rect x="136" y="108" width="335.5" height="58" fill="#fff"/>
<g clip-path="url(#mclip)" fill="none" stroke="#cacbcc" stroke-width="5.0" stroke-linejoin="miter" stroke-miterlimit="3">
<path d="M132.5,193.1L135,194.4L147.5,201.9L165,214.9L179.9,220.6L192.4,226.4L204.9,233.8L219.9,236.8L239.9,237.3L259.8,235.6L277.3,231.8L294.8,224.4L309.8,219.4L322.3,216.9L334.8,216.4L351,219.9L361,223.9L371,228.1L383.5,228.8L398.4,229.3L413.4,234.3L428.4,239.3L440.9,242.3L455.9,240.6L470.9,238.8L485.8,236.8L500.8,234.3L513.3,228.8L523.3,223.1L535.8,224.9L550.8,229.3L567,234.3L578.2,237.3"/>
<path d="M132.5,256.3L152.5,259.8L170,264.3L184.9,268L197.4,269.3L212.4,268L227.4,266.3L239.9,269.3L254.9,275.5L269.8,281.8L284.8,286.3L299.8,289.8L314.8,291.8L329.8,291.3L351,289.3L371,288.8L378.5,293L388.5,300.5L398.4,306.8L404.7,310.5L400.9,319.2L397.2,323L388.5,338L382.2,349.2L364.7,356.7L359.7,363L368.5,367.9L377.2,372.9L379.7,385.4L381,397.9L378.5,410.4L376,422.9L373.5,435.4L372.2,447.8L373,462.8L369.7,477.8L364.7,492.8L359.7,504L351,510.3L339.7,520.3L324.8,532.7L316,539L317.3,550L315.3,565L312.8,580L309.8,594.9L306,609.9L302.3,624.9L294.8,637.4L287.3,647.4L279.8,656.1L272.3,663.6L259.8,661.9L248.6,660.4L242.4,667.4L236.1,679.8L232.4,692.3L229.9,702.3L222.4,712.3L212.4,722.3L202.4,731L192.4,738.5L179.9,744.8L167.5,748.5L150,749.8L132.5,751.2"/>
<path d="M578.2,281.8L567,288L555.7,293L545.8,299.3L535.8,306.8L525.8,314.2L513.3,319.2L500.8,321.7L495.8,325.5L498.3,335.5L495.8,348L483.3,354.2L468.4,355.5L463.4,360.5L450.9,364.2L433.4,370.4L418.4,375.4L407.2,384.2L398.4,396.7L407.2,404.1L414.7,411.6L417.2,422.9L408.4,432.9L398.4,442.9L392.2,447.8L389.7,457.8L386,472.8L383.5,485.3L386,497.8L389.7,510.3L388.5,520.3L376,526.5L363.5,534L356,539L351,553.7L342.2,560L334.8,570L328.5,582.5L326,590L326,604.9L327.3,622.4L328.5,639.9L331,659.9L322.3,669.9L314.8,681.1L309.8,693.6L299.8,706.1L287.3,716L277.3,721.8L284.8,728.5L296,738.5L287.3,747.3L277.3,754.7L264.8,759.7L249.9,759.2L234.9,758.5L217.4,757.2L202.4,755.2L179.9,755.2L184.9,761L191.2,766L194.9,769.7"/>
<path d="M544.5,422.9L530.8,436.6L520.8,447.8L510.8,460.3L504.6,472.8L502.8,485.3L503.8,502.8L506.3,520.3L510.8,539L512,550L507.1,570L504.6,587.5L502.8,604.9L500.8,622.4L499.6,637.4L497.1,652.4L493.3,667.4L487.1,682.3L478.3,697.3L470.9,708.6" clip-path="url(#dclip)"/>
</g>
<text class="ser" x="148.4" y="151.2" word-spacing="0.8">(c) LVZ at 30 km</text>
<g>
<path d="M115.8,86.8H592.8V786.2H115.8Z M134.8,106.2V766.6H573.6V106.2Z" fill="#fff" fill-rule="evenodd"/>
<rect x="134.8" y="86.8" width="134.6" height="19.4" fill="#000"/>
<rect x="472.3" y="86.8" width="101.3" height="19.4" fill="#000"/>
<rect x="134.8" y="766.6" width="134.6" height="19.6" fill="#000"/>
<rect x="472.3" y="766.6" width="101.3" height="19.6" fill="#000"/>
<rect x="115.8" y="105" width="19" height="18.8" fill="#000"/>
<rect x="115.8" y="389.4" width="19" height="254.4" fill="#000"/>
<rect x="573.6" y="105" width="19.2" height="18.8" fill="#000"/>
<rect x="573.6" y="389.4" width="19.2" height="254.4" fill="#000"/>
<g fill="none" stroke="#000" stroke-width="1.9">
<rect x="115.8" y="86.8" width="477" height="699.4"/>
<rect x="134.8" y="106.2" width="438.8" height="660.4"/>
<path d="M134.8,86.8V106.2M573.6,86.8V106.2M134.8,766.6V786.2M573.6,766.6V786.2M115.8,105H134.8M573.6,105H592.8M115.8,766.6H134.8M573.6,766.6H592.8"/>
</g>
<text class="ax" transform="translate(30.6,144) scale(1,1.035)">42</text><text class="dg" x="98.6" y="127.8" text-anchor="middle" stroke="#000" stroke-width="0.7">°</text>
<text class="ax" transform="translate(30.6,410) scale(1,1.035)">39</text><text class="dg" x="98.6" y="393.4" text-anchor="middle" stroke="#000" stroke-width="0.7">°</text>
<text class="ax" transform="translate(30.6,665) scale(1,1.035)">36</text><text class="dg" x="98.6" y="647.4" text-anchor="middle" stroke="#000" stroke-width="0.7">°</text>
<text class="ax" transform="translate(216.5,834.2) scale(1,1.035)">111</text><text class="dg" x="313.2" y="818.2" text-anchor="middle" stroke="#000" stroke-width="0.7">°</text>
<text class="ax" transform="translate(419.5,834.2) scale(1,1.035)">114</text><text class="dg" x="515.8" y="818.2" text-anchor="middle" stroke="#000" stroke-width="0.7">°</text>
</g>
</g>
<g>
<rect x="1833.1" y="62.5" width="26.7" height="749.6" fill="#000"/>
<rect x="1838.7" y="772.4" width="15.9" height="37.2" fill="#0505e6"/>
<rect x="1838.7" y="697.9" width="15.9" height="74.5" fill="#00bfff"/>
<rect x="1838.7" y="586.2" width="15.9" height="111.7" fill="#a5cd58"/>
<rect x="1838.7" y="288.3" width="15.9" height="297.9" fill="#e6e6e7"/>
<rect x="1838.7" y="176.6" width="15.9" height="111.7" fill="#ffff00"/>
<rect x="1838.7" y="102.1" width="15.9" height="74.5" fill="#fdb928"/>
<rect x="1838.7" y="64.9" width="15.9" height="37.2" fill="#ff0000"/>
<rect x="1838.7" y="64.9" width="15.9" height="744.7" fill="url(#sheen)"/>
<rect x="1838" y="62.5" width="17" height="5.4" fill="#000"/>
<rect x="1838" y="806.8" width="17" height="5.3" fill="#000"/>
<path d="M1838.4,772.4H1876.4 M1838.4,697.9H1876.4 M1838.4,586.2H1876.4 M1838.4,288.3H1876.4 M1838.4,176.6H1876.4 M1838.4,102.1H1876.4" stroke="#000" stroke-width="1.5" fill="none"/>
<path d="M1859,809.6H1876.4M1859,64.9H1876.4" stroke="#000" stroke-width="1.5" fill="none"/>
<text class="ax" transform="translate(1969,829.2) scale(1,1.035)" text-anchor="end">0</text>
<text class="ax" transform="translate(1969,792) scale(1,1.035)" text-anchor="end">5</text>
<text class="ax" transform="translate(1969,717.5) scale(1,1.035)" text-anchor="end">15</text>
<text class="ax" transform="translate(1969,605.8) scale(1,1.035)" text-anchor="end">30</text>
<text class="ax" transform="translate(1969,307.9) scale(1,1.035)" text-anchor="end">70</text>
<text class="ax" transform="translate(1969,196.2) scale(1,1.035)" text-anchor="end">85</text>
<text class="ax" transform="translate(1969,121.7) scale(1,1.035)" text-anchor="end">95</text>
<text class="ax" transform="translate(1969,84.5) scale(1,1.035)" text-anchor="end">100</text>
<text class="ax" transform="translate(1806,57.8) scale(0.955,1.035)">(%)</text>
</g>
</svg>
</body></html>
